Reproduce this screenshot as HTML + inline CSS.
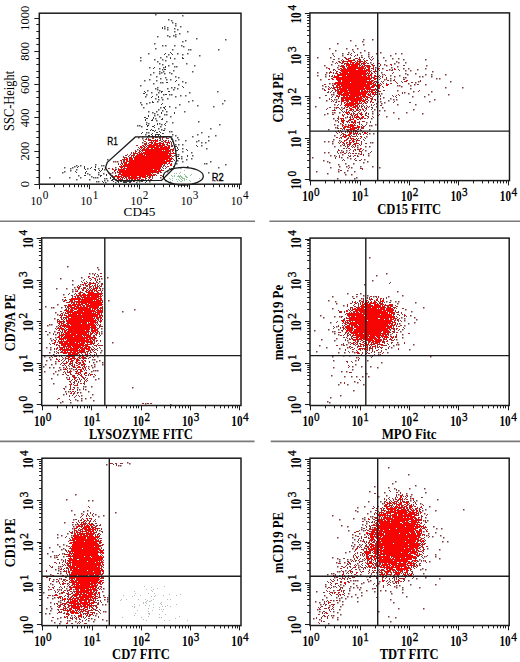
<!DOCTYPE html>
<html><head><meta charset="utf-8"><style>
html,body{margin:0;padding:0;background:#fff;width:520px;height:662px;overflow:hidden}
svg{display:block}
text{font-family:"Liberation Serif",serif;fill:#000}
</style></head><body>
<svg width="520" height="662" viewBox="0 0 520 662">
<rect width="520" height="662" fill="#fff"/>
<path stroke="#7a7a7a" stroke-width="1.6" d="M0 221.2H255M269.4 221.2H520M0 441.4H254.6M270.7 441.4H520"/>
<g stroke-width="1" fill="none"><path stroke="#7a3c3c" stroke-width="1.5" d="M363 39.75h1.5M372 39.75h1.5M350 40.75h1.5M362 41.75h1.5M337 43.75h1.5M363 44.75h1.5M355 45.75h1.5M329 48.75h1.5M346 48.75h1.5M357 48.75h1.5M352 49.75h1.5M335 50.75h1.5M364 50.75h1.5M348 52.75h1.5M360 52.75h1.5M368 52.75h1.5M380 52.75h1.5M332 53.75h1.5M342 53.75h1.5M376 53.75h1.5M395 53.75h1.5M401 53.75h1.5M368 54.75h1.5M342 55.75h1.5M361 55.75h1.5M390 55.75h1.5M368 56.75h1.5M317 57.75h1.5M330 57.75h1.5M383 57.75h1.5M338 58.75h1.5M392 58.75h1.5M398 58.75h1.5M403 59.75h1.5M425 59.75h1.5M377 60.75h1.5M385 60.75h1.5M332 61.75h1.5M396 61.75h1.5M370 62.75h1.5M398 62.75h1.5M405 62.75h1.5M394 63.75h1.5M331 64.75h1.5M384 64.75h1.5M324 65.75h1.5M338 65.75h1.5M386 65.75h1.5M426 65.75h1.5M397 66.75h1.5M326 67.75h1.5M337 67.75h1.5M375 67.75h1.5M391 67.75h1.5M382 68.75h1.5M403 68.75h1.5M408 68.75h1.5M425 68.75h1.5M389 69.75h1.5M417 69.75h1.5M405 70.75h1.5M410 70.75h1.5M432 71.75h1.5M317 72.75h1.5M326 72.75h1.5M381 72.75h1.5M405 73.75h1.5M415 73.75h1.5M325 74.75h1.5M382 74.75h1.5M407 74.75h1.5M425 74.75h1.5M431 74.75h1.5M445 74.75h1.5M317 75.75h1.5M390 75.75h1.5M399 75.75h1.5M325 76.75h1.5M394 76.75h1.5M419 76.75h1.5M422 76.75h1.5M431 76.75h1.5M403 77.75h1.5M405 77.75h1.5M390 78.75h1.5M436 78.75h1.5M439 78.75h1.5M320 79.75h1.5M384 79.75h1.5M390 80.75h1.5M418 81.75h1.5M450 81.75h1.5M415 82.75h1.5M329 83.75h1.5M332 83.75h1.5M408 83.75h1.5M414 84.75h1.5M425 84.75h1.5M322 85.75h1.5M397 85.75h1.5M399 85.75h1.5M410 85.75h1.5M325 86.75h1.5M401 86.75h1.5M445 87.75h1.5M462 87.75h1.5M322 88.75h1.5M410 88.75h1.5M397 90.75h1.5M413 91.75h1.5M431 91.75h1.5M333 92.75h1.5M404 92.75h1.5M381 93.75h1.5M408 93.75h1.5M331 94.75h1.5M333 94.75h1.5M428 94.75h1.5M448 94.75h1.5M377 96.75h1.5M412 96.75h1.5M424 96.75h1.5M319 97.75h1.5M383 97.75h1.5M390 98.75h1.5M334 99.75h1.5M336 99.75h1.5M393 99.75h1.5M396 99.75h1.5M434 99.75h1.5M326 100.75h1.5M388 100.75h1.5M377 101.75h1.5M380 101.75h1.5M429 101.75h1.5M384 102.75h1.5M376 103.75h1.5M381 103.75h1.5M334 104.75h1.5M397 104.75h1.5M415 104.75h1.5M315 106.75h1.5M376 106.75h1.5M334 107.75h1.5M341 107.75h1.5M382 107.75h1.5M374 109.75h1.5M413 109.75h1.5M379 110.75h1.5M384 110.75h1.5M372 111.75h1.5M332 112.75h1.5M334 112.75h1.5M339 112.75h1.5M393 112.75h1.5M406 112.75h1.5M327 113.75h1.5M372 113.75h1.5M422 113.75h1.5M324 114.75h1.5M386 116.75h1.5M345 117.75h1.5M333 118.75h1.5M371 118.75h1.5M398 118.75h1.5M335 120.75h1.5M366 122.75h1.5M340 123.75h1.5M334 124.75h1.5M345 124.75h1.5M375 124.75h1.5M337 125.75h1.5M369 125.75h1.5M371 125.75h1.5M335 127.75h1.5M328 129.75h1.5M369 129.75h1.5M369 133.75h1.5M373 133.75h1.5M334 135.75h1.5M366 136.75h1.5M138 137.75h1.5M142 138.75h1.5M333 139.75h1.5M339 140.75h1.5M324 141.75h1.5M328 141.75h1.5M332 141.75h1.5M142 142.75h1.5M370 142.75h1.5M372 142.75h1.5M332 143.75h1.5M340 145.75h1.5M357 145.75h1.5M334 146.75h1.5M365 146.75h1.5M369 146.75h1.5M357 147.75h1.5M137 149.75h1.5M175 150.75h1.5M341 150.75h1.5M346 150.75h1.5M365 150.75h1.5M324 152.75h1.5M328 152.75h1.5M340 152.75h1.5M358 153.75h1.5M368 153.75h1.5M342 154.75h1.5M330 155.75h1.5M334 155.75h1.5M368 155.75h1.5M312 157.75h1.5M341 157.75h1.5M347 157.75h1.5M350 158.75h1.5M364 159.75h1.5M323 160.75h1.5M113 161.75h1.5M115 161.75h1.5M117 161.75h1.5M327 161.75h1.5M367 161.75h1.5M329 162.75h1.5M363 162.75h1.5M345 163.75h1.5M353 163.75h1.5M338 164.75h1.5M348 165.75h1.5M173 166.75h1.5M339 166.75h1.5M346 166.75h1.5M360 166.75h1.5M372 166.75h1.5M115 167.75h1.5M330 167.75h1.5M351 167.75h1.5M379 167.75h1.5M169 168.75h1.5M171 168.75h1.5M338 169.75h1.5M347 170.75h1.5M167 171.75h1.5M316 171.75h1.5M338 171.75h1.5M354 171.75h1.5M112 172.75h1.5M344 172.75h1.5M110 173.75h1.5M327 173.75h1.5M345 174.75h1.5M351 174.75h1.5M160 177.75h1.5M356 177.75h1.5M337 178.75h1.5M354 178.75h1.5M369 257.75h1.5M67 266.75h1.5M97 267.75h1.5M98 269.75h1.5M89 273.75h1.5M92 273.75h1.5M386 273.75h1.5M376 275.75h1.5M96 276.75h1.5M81 277.75h1.5M107 277.75h1.5M60 278.75h1.5M101 278.75h1.5M72 280.75h1.5M372 280.75h1.5M99 281.75h1.5M72 284.75h1.5M80 284.75h1.5M364 284.75h1.5M74 287.75h1.5M56 288.75h1.5M66 288.75h1.5M102 288.75h1.5M72 289.75h1.5M75 289.75h1.5M72 291.75h1.5M397 291.75h1.5M347 293.75h1.5M360 293.75h1.5M63 294.75h1.5M363 295.75h1.5M367 295.75h1.5M402 295.75h1.5M332 296.75h1.5M352 296.75h1.5M356 296.75h1.5M373 296.75h1.5M388 296.75h1.5M361 298.75h1.5M62 299.75h1.5M108 300.75h1.5M328 300.75h1.5M390 300.75h1.5M335 301.75h1.5M386 301.75h1.5M395 301.75h1.5M398 301.75h1.5M415 302.75h1.5M336 303.75h1.5M397 303.75h1.5M57 304.75h1.5M343 305.75h1.5M45 306.75h1.5M51 307.75h1.5M53 307.75h1.5M61 307.75h1.5M423 307.75h1.5M332 308.75h1.5M134 309.75h1.5M405 309.75h1.5M122 311.75h1.5M411 311.75h1.5M55 312.75h1.5M57 314.75h1.5M320 315.75h1.5M410 315.75h1.5M334 316.75h1.5M339 316.75h1.5M323 317.75h1.5M401 317.75h1.5M414 317.75h1.5M54 318.75h1.5M404 318.75h1.5M416 319.75h1.5M404 320.75h1.5M330 322.75h1.5M414 322.75h1.5M399 323.75h1.5M408 323.75h1.5M49 324.75h1.5M51 324.75h1.5M47 325.75h1.5M404 325.75h1.5M56 326.75h1.5M336 326.75h1.5M101 328.75h1.5M328 329.75h1.5M338 329.75h1.5M402 329.75h1.5M314 330.75h1.5M54 331.75h1.5M101 331.75h1.5M332 331.75h1.5M334 331.75h1.5M400 331.75h1.5M49 332.75h1.5M101 333.75h1.5M334 333.75h1.5M47 334.75h1.5M55 334.75h1.5M338 334.75h1.5M390 334.75h1.5M402 334.75h1.5M55 337.75h1.5M402 337.75h1.5M50 338.75h1.5M336 338.75h1.5M321 339.75h1.5M396 339.75h1.5M51 340.75h1.5M334 340.75h1.5M347 340.75h1.5M112 342.75h1.5M348 342.75h1.5M397 342.75h1.5M341 344.75h1.5M346 344.75h1.5M396 344.75h1.5M398 344.75h1.5M413 344.75h1.5M319 345.75h1.5M393 345.75h1.5M46 347.75h1.5M50 347.75h1.5M326 347.75h1.5M347 347.75h1.5M391 347.75h1.5M339 348.75h1.5M50 349.75h1.5M409 349.75h1.5M101 350.75h1.5M316 351.75h1.5M352 351.75h1.5M49 352.75h1.5M100 352.75h1.5M338 352.75h1.5M344 352.75h1.5M354 352.75h1.5M378 352.75h1.5M387 352.75h1.5M53 354.75h1.5M378 354.75h1.5M343 355.75h1.5M349 355.75h1.5M370 355.75h1.5M44 356.75h1.5M97 356.75h1.5M332 356.75h1.5M430 356.75h1.5M49 357.75h1.5M356 357.75h1.5M50 359.75h1.5M92 359.75h1.5M94 359.75h1.5M46 360.75h1.5M99 360.75h1.5M333 360.75h1.5M355 360.75h1.5M367 360.75h1.5M55 361.75h1.5M96 361.75h1.5M93 362.75h1.5M102 362.75h1.5M381 362.75h1.5M55 363.75h1.5M45 364.75h1.5M51 364.75h1.5M94 364.75h1.5M102 364.75h1.5M355 364.75h1.5M91 365.75h1.5M43 366.75h1.5M88 366.75h1.5M94 366.75h1.5M352 366.75h1.5M361 366.75h1.5M370 366.75h1.5M49 367.75h1.5M53 367.75h1.5M59 367.75h1.5M63 367.75h1.5M92 367.75h1.5M333 367.75h1.5M377 367.75h1.5M69 368.75h1.5M71 368.75h1.5M60 369.75h1.5M73 369.75h1.5M352 369.75h1.5M58 370.75h1.5M93 370.75h1.5M95 370.75h1.5M97 370.75h1.5M44 371.75h1.5M55 371.75h1.5M91 371.75h1.5M341 371.75h1.5M346 371.75h1.5M53 373.75h1.5M366 373.75h1.5M57 374.75h1.5M331 375.75h1.5M93 376.75h1.5M344 376.75h1.5M351 376.75h1.5M356 376.75h1.5M362 376.75h1.5M368 376.75h1.5M66 377.75h1.5M51 378.75h1.5M98 378.75h1.5M95 379.75h1.5M354 381.75h1.5M340 382.75h1.5M357 382.75h1.5M53 383.75h1.5M338 384.75h1.5M347 384.75h1.5M363 384.75h1.5M65 386.75h1.5M83 386.75h1.5M85 386.75h1.5M91 386.75h1.5M77 387.75h1.5M132 387.75h1.5M79 389.75h1.5M85 389.75h1.5M353 390.75h1.5M65 391.75h1.5M68 391.75h1.5M88 391.75h1.5M80 392.75h1.5M63 394.75h1.5M92 394.75h1.5M81 395.75h1.5M340 395.75h1.5M90 397.75h1.5M330 397.75h1.5M81 398.75h1.5M85 398.75h1.5M75 399.75h1.5M77 400.75h1.5M81 400.75h1.5M93 400.75h1.5M62 401.75h1.5M327 401.75h1.5M60 402.75h1.5M70 402.75h1.5M329 402.75h1.5M145 403.75h1.5M170 404.75h1.5M127 462.75h1.5M129 463.75h1.5M106 464.75h1.5M118 465.75h1.5M120 465.75h1.5M388 467.75h1.5M408 474.75h1.5M395 481.75h1.5M392 483.75h1.5M415 485.75h1.5M374 486.75h1.5M388 487.75h1.5M394 488.75h1.5M409 488.75h1.5M424 488.75h1.5M398 490.75h1.5M369 491.75h1.5M384 492.75h1.5M425 492.75h1.5M406 493.75h1.5M75 494.75h1.5M398 494.75h1.5M411 494.75h1.5M386 495.75h1.5M378 496.75h1.5M410 496.75h1.5M410 498.75h1.5M66 499.75h1.5M437 499.75h1.5M88 500.75h1.5M92 500.75h1.5M410 500.75h1.5M416 500.75h1.5M368 501.75h1.5M380 501.75h1.5M382 503.75h1.5M420 503.75h1.5M364 506.75h1.5M429 506.75h1.5M357 507.75h1.5M425 509.75h1.5M463 509.75h1.5M71 510.75h1.5M87 510.75h1.5M355 510.75h1.5M422 510.75h1.5M435 510.75h1.5M83 511.75h1.5M357 511.75h1.5M370 511.75h1.5M115 512.75h1.5M81 513.75h1.5M367 513.75h1.5M424 513.75h1.5M74 514.75h1.5M95 514.75h1.5M103 515.75h1.5M332 515.75h1.5M98 516.75h1.5M370 516.75h1.5M372 516.75h1.5M364 517.75h1.5M425 517.75h1.5M353 518.75h1.5M362 518.75h1.5M73 519.75h1.5M339 519.75h1.5M364 519.75h1.5M423 520.75h1.5M427 520.75h1.5M366 521.75h1.5M64 522.75h1.5M366 523.75h1.5M72 524.75h1.5M75 524.75h1.5M362 524.75h1.5M341 525.75h1.5M73 526.75h1.5M347 526.75h1.5M433 526.75h1.5M361 527.75h1.5M372 527.75h1.5M72 528.75h1.5M436 528.75h1.5M441 528.75h1.5M361 529.75h1.5M99 530.75h1.5M348 530.75h1.5M363 530.75h1.5M423 531.75h1.5M435 532.75h1.5M67 533.75h1.5M359 533.75h1.5M428 533.75h1.5M57 534.75h1.5M352 534.75h1.5M364 534.75h1.5M61 535.75h1.5M71 535.75h1.5M355 535.75h1.5M426 535.75h1.5M440 535.75h1.5M432 536.75h1.5M57 537.75h1.5M337 537.75h1.5M352 537.75h1.5M443 537.75h1.5M354 539.75h1.5M360 540.75h1.5M442 541.75h1.5M447 541.75h1.5M352 542.75h1.5M57 544.75h1.5M63 544.75h1.5M354 544.75h1.5M359 544.75h1.5M66 545.75h1.5M351 545.75h1.5M59 546.75h1.5M353 546.75h1.5M49 547.75h1.5M63 548.75h1.5M352 548.75h1.5M427 548.75h1.5M61 549.75h1.5M439 549.75h1.5M52 551.75h1.5M349 551.75h1.5M345 552.75h1.5M47 553.75h1.5M62 553.75h1.5M435 554.75h1.5M54 555.75h1.5M56 555.75h1.5M50 556.75h1.5M63 556.75h1.5M424 556.75h1.5M435 556.75h1.5M54 557.75h1.5M332 557.75h1.5M337 558.75h1.5M439 558.75h1.5M61 559.75h1.5M339 559.75h1.5M347 559.75h1.5M350 559.75h1.5M362 559.75h1.5M419 559.75h1.5M423 560.75h1.5M339 561.75h1.5M429 561.75h1.5M336 562.75h1.5M344 562.75h1.5M357 563.75h1.5M358 565.75h1.5M58 566.75h1.5M60 566.75h1.5M337 566.75h1.5M358 567.75h1.5M58 568.75h1.5M422 568.75h1.5M55 569.75h1.5M359 569.75h1.5M420 569.75h1.5M425 569.75h1.5M58 570.75h1.5M345 570.75h1.5M60 571.75h1.5M337 571.75h1.5M339 571.75h1.5M376 572.75h1.5M60 573.75h1.5M331 573.75h1.5M333 573.75h1.5M423 573.75h1.5M50 574.75h1.5M327 574.75h1.5M360 574.75h1.5M333 575.75h1.5M339 575.75h1.5M348 575.75h1.5M351 575.75h1.5M366 576.75h1.5M334 577.75h1.5M425 577.75h1.5M59 578.75h1.5M416 578.75h1.5M439 578.75h1.5M53 579.75h1.5M367 579.75h1.5M350 580.75h1.5M353 580.75h1.5M355 580.75h1.5M357 580.75h1.5M370 580.75h1.5M408 580.75h1.5M56 581.75h1.5M368 581.75h1.5M379 581.75h1.5M392 581.75h1.5M363 582.75h1.5M50 583.75h1.5M353 583.75h1.5M361 583.75h1.5M378 583.75h1.5M52 584.75h1.5M325 584.75h1.5M340 584.75h1.5M410 584.75h1.5M435 584.75h1.5M343 585.75h1.5M356 585.75h1.5M376 585.75h1.5M396 585.75h1.5M399 585.75h1.5M325 586.75h1.5M333 586.75h1.5M350 586.75h1.5M394 586.75h1.5M353 587.75h1.5M357 587.75h1.5M360 587.75h1.5M396 587.75h1.5M402 587.75h1.5M419 587.75h1.5M66 588.75h1.5M103 588.75h1.5M349 588.75h1.5M372 588.75h1.5M48 589.75h1.5M57 589.75h1.5M59 589.75h1.5M73 589.75h1.5M359 589.75h1.5M402 589.75h1.5M333 590.75h1.5M349 590.75h1.5M366 590.75h1.5M380 590.75h1.5M385 590.75h1.5M102 591.75h1.5M316 591.75h1.5M374 591.75h1.5M390 591.75h1.5M43 592.75h1.5M361 592.75h1.5M402 592.75h1.5M59 593.75h1.5M348 593.75h1.5M391 593.75h1.5M355 594.75h1.5M52 595.75h1.5M103 595.75h1.5M324 595.75h1.5M361 595.75h1.5M347 596.75h1.5M351 596.75h1.5M406 596.75h1.5M47 597.75h1.5M54 597.75h1.5M107 597.75h1.5M326 597.75h1.5M336 597.75h1.5M341 597.75h1.5M357 597.75h1.5M52 598.75h1.5M339 598.75h1.5M345 598.75h1.5M104 599.75h1.5M107 599.75h1.5M322 599.75h1.5M390 599.75h1.5M60 600.75h1.5M333 600.75h1.5M339 600.75h1.5M58 601.75h1.5M107 601.75h1.5M315 601.75h1.5M342 601.75h1.5M357 601.75h1.5M50 602.75h1.5M60 602.75h1.5M319 602.75h1.5M337 602.75h1.5M393 602.75h1.5M102 604.75h1.5M105 604.75h1.5M320 604.75h1.5M342 604.75h1.5M329 605.75h1.5M50 606.75h1.5M340 606.75h1.5M46 608.75h1.5M51 608.75h1.5M398 608.75h1.5M423 608.75h1.5M317 609.75h1.5M339 609.75h1.5M50 610.75h1.5M103 611.75h1.5M105 611.75h1.5M319 611.75h1.5M333 611.75h1.5M378 611.75h1.5M337 612.75h1.5M45 613.75h1.5M49 613.75h1.5M96 613.75h1.5M340 614.75h1.5M71 615.75h1.5M95 615.75h1.5M331 615.75h1.5M333 615.75h1.5M388 616.75h1.5M60 617.75h1.5M332 617.75h1.5M337 617.75h1.5M395 617.75h1.5M57 618.75h1.5M91 618.75h1.5M313 618.75h1.5M94 619.75h1.5M102 619.75h1.5M319 619.75h1.5M337 619.75h1.5M51 620.75h1.5M67 620.75h1.5M69 620.75h1.5M88 620.75h1.5M106 620.75h1.5M60 621.75h1.5M75 621.75h1.5M93 621.75h1.5M390 621.75h1.5M54 622.75h1.5M59 623.75h1.5M328 623.75h1.5"/>
<path stroke="#555555" stroke-width="1.5" d="M155 14.75h1.5M182 15.75h1.5M168 19.75h1.5M171 20.75h1.5M172 22.75h1.5M175 23.75h1.5M175 25.75h1.5M164 26.75h1.5M180 26.75h1.5M167 27.75h1.5M164 28.75h1.5M174 28.75h1.5M167 29.75h1.5M177 29.75h1.5M174 31.75h1.5M187 31.75h1.5M179 33.75h1.5M175 34.75h1.5M167 35.75h1.5M173 35.75h1.5M157 36.75h1.5M169 36.75h1.5M175 36.75h1.5M196 38.75h1.5M225 39.75h1.5M185 40.75h1.5M182 41.75h1.5M154 43.75h1.5M162 45.75h1.5M165 45.75h1.5M174 45.75h1.5M181 45.75h1.5M183 46.75h1.5M155 48.75h1.5M172 49.75h1.5M188 49.75h1.5M190 49.75h1.5M218 49.75h1.5M148 53.75h1.5M177 53.75h1.5M187 53.75h1.5M168 54.75h1.5M182 54.75h1.5M199 55.75h1.5M166 56.75h1.5M140 57.75h1.5M160 57.75h1.5M174 58.75h1.5M154 59.75h1.5M162 59.75h1.5M140 60.75h1.5M165 60.75h1.5M157 61.75h1.5M159 63.75h1.5M172 63.75h1.5M186 63.75h1.5M162 64.75h1.5M168 65.75h1.5M194 65.75h1.5M174 66.75h1.5M176 66.75h1.5M149 67.75h1.5M163 67.75h1.5M159 68.75h1.5M162 69.75h1.5M173 70.75h1.5M159 71.75h1.5M163 71.75h1.5M192 71.75h1.5M153 72.75h1.5M161 72.75h1.5M169 72.75h1.5M159 73.75h1.5M164 73.75h1.5M171 73.75h1.5M150 74.75h1.5M156 76.75h1.5M175 76.75h1.5M165 77.75h1.5M178 77.75h1.5M160 78.75h1.5M149 79.75h1.5M166 79.75h1.5M170 79.75h1.5M144 80.75h1.5M156 80.75h1.5M182 81.75h1.5M160 82.75h1.5M162 82.75h1.5M185 82.75h1.5M153 83.75h1.5M178 84.75h1.5M140 85.75h1.5M157 87.75h1.5M171 87.75h1.5M174 87.75h1.5M155 88.75h1.5M167 88.75h1.5M177 88.75h1.5M157 89.75h1.5M173 89.75h1.5M147 90.75h1.5M159 90.75h1.5M217 91.75h1.5M151 92.75h1.5M158 92.75h1.5M189 92.75h1.5M146 94.75h1.5M156 94.75h1.5M163 94.75h1.5M169 94.75h1.5M171 94.75h1.5M180 95.75h1.5M185 95.75h1.5M145 96.75h1.5M175 96.75h1.5M161 97.75h1.5M155 98.75h1.5M167 98.75h1.5M158 99.75h1.5M162 99.75h1.5M192 100.75h1.5M224 100.75h1.5M157 101.75h1.5M188 101.75h1.5M140 102.75h1.5M149 102.75h1.5M146 103.75h1.5M222 103.75h1.5M141 104.75h1.5M179 104.75h1.5M197 105.75h1.5M169 106.75h1.5M213 106.75h1.5M143 107.75h1.5M160 107.75h1.5M175 107.75h1.5M158 109.75h1.5M162 110.75h1.5M148 111.75h1.5M156 111.75h1.5M166 111.75h1.5M184 111.75h1.5M152 112.75h1.5M154 113.75h1.5M157 114.75h1.5M164 114.75h1.5M166 114.75h1.5M154 115.75h1.5M159 116.75h1.5M170 116.75h1.5M155 118.75h1.5M156 120.75h1.5M166 121.75h1.5M198 121.75h1.5M146 122.75h1.5M172 122.75h1.5M148 123.75h1.5M159 123.75h1.5M161 124.75h1.5M219 124.75h1.5M137 125.75h1.5M139 125.75h1.5M141 126.75h1.5M160 126.75h1.5M158 128.75h1.5M164 128.75h1.5M210 128.75h1.5M161 129.75h1.5M169 131.75h1.5M171 131.75h1.5M146 132.75h1.5M148 132.75h1.5M201 132.75h1.5M145 134.75h1.5M172 134.75h1.5M197 134.75h1.5M175 135.75h1.5M215 135.75h1.5M142 136.75h1.5M164 136.75h1.5M169 136.75h1.5M171 136.75h1.5M192 136.75h1.5M208 136.75h1.5M177 137.75h1.5M178 139.75h1.5M175 140.75h1.5M185 140.75h1.5M198 140.75h1.5M208 140.75h1.5M196 141.75h1.5M201 142.75h1.5M205 142.75h1.5M175 144.75h1.5M178 144.75h1.5M182 144.75h1.5M201 145.75h1.5M182 148.75h1.5M206 148.75h1.5M182 151.75h1.5M191 152.75h1.5M176 154.75h1.5M178 154.75h1.5M192 155.75h1.5M181 156.75h1.5M181 158.75h1.5M191 158.75h1.5M107 159.75h1.5M186 159.75h1.5M177 160.75h1.5M182 161.75h1.5M210 161.75h1.5M176 163.75h1.5M204 163.75h1.5M206 163.75h1.5M95 164.75h1.5M225 164.75h1.5M76 165.75h1.5M80 165.75h1.5M101 165.75h1.5M103 165.75h1.5M74 166.75h1.5M187 166.75h1.5M64 167.75h1.5M72 167.75h1.5M105 167.75h1.5M180 167.75h1.5M218 167.75h1.5M70 168.75h1.5M87 168.75h1.5M98 168.75h1.5M76 169.75h1.5M104 169.75h1.5M70 170.75h1.5M64 171.75h1.5M62 172.75h1.5M98 172.75h1.5M108 172.75h1.5M208 172.75h1.5M87 173.75h1.5M103 173.75h1.5M89 174.75h1.5M98 174.75h1.5M78 175.75h1.5M91 176.75h1.5M49 177.75h1.5M69 177.75h1.5M80 177.75h1.5M93 177.75h1.5M95 177.75h1.5M97 177.75h1.5M104 178.75h1.5M106 178.75h1.5M76 179.75h1.5M89 179.75h1.5M220 179.75h1.5M104 180.75h1.5M107 180.75h1.5M137 180.75h1.5M165 180.75h1.5M214 180.75h1.5M96 181.75h1.5M98 181.75h1.5M139 181.75h1.5M149 181.75h1.5M105 182.75h1.5M115 182.75h1.5M136 182.75h1.5"/>
<path stroke="#7a3939" d="M353 51.5h1M354 52.5h1M351 53.5h1M347 54.5h2M333 55.5h1M355 55.5h1M334 56.5h1M354 56.5h1M372 56.5h1M350 57.5h1M359 57.5h1M361 57.5h2M371 57.5h1M345 58.5h1M350 58.5h1M364 58.5h1M369 58.5h1M333 59.5h2M342 59.5h1M353 59.5h1M360 59.5h1M363 59.5h1M370 59.5h1M341 60.5h1M371 60.5h1M362 61.5h1M339 62.5h1M377 62.5h1M335 63.5h1M348 63.5h1M368 63.5h1M373 63.5h1M344 64.5h1M371 64.5h1M341 65.5h1M374 65.5h1M403 65.5h2M370 66.5h1M379 66.5h1M377 67.5h1M371 68.5h1M333 69.5h2M375 69.5h1M377 69.5h1M392 69.5h1M398 69.5h1M333 70.5h1M335 70.5h1M379 70.5h1M391 70.5h2M399 70.5h1M330 71.5h1M373 71.5h1M376 71.5h1M339 72.5h1M335 73.5h1M372 73.5h1M329 75.5h1M332 75.5h1M334 75.5h1M379 75.5h1M329 76.5h1M331 76.5h1M380 76.5h1M386 77.5h1M331 78.5h1M373 78.5h1M380 78.5h1M379 79.5h1M394 79.5h1M403 79.5h2M337 80.5h1M387 80.5h2M393 80.5h1M381 81.5h1M383 81.5h1M401 81.5h1M378 82.5h1M402 82.5h1M411 82.5h2M380 83.5h1M386 83.5h1M388 84.5h1M417 84.5h2M374 86.5h1M376 86.5h1M331 87.5h1M330 88.5h1M324 89.5h1M332 90.5h1M383 90.5h2M328 91.5h1M331 91.5h1M380 91.5h1M327 92.5h2M330 92.5h1M376 92.5h1M379 93.5h1M367 94.5h1M376 94.5h1M379 94.5h1M325 95.5h2M380 95.5h1M392 95.5h1M396 95.5h1M332 96.5h1M380 96.5h1M393 96.5h1M395 96.5h1M331 97.5h1M335 97.5h1M341 97.5h1M396 97.5h1M338 98.5h1M331 99.5h1M368 100.5h1M375 100.5h1M331 101.5h1M336 101.5h1M394 101.5h1M335 102.5h2M370 102.5h1M393 102.5h1M409 102.5h2M363 103.5h1M338 104.5h1M374 104.5h1M337 105.5h1M361 105.5h1M366 105.5h1M373 105.5h1M362 106.5h1M329 107.5h2M338 107.5h1M371 107.5h2M336 108.5h1M339 108.5h1M344 108.5h1M349 108.5h1M355 108.5h1M365 108.5h1M372 108.5h1M334 109.5h1M340 109.5h1M360 109.5h1M371 109.5h1M341 110.5h1M360 110.5h1M363 110.5h1M342 111.5h1M344 111.5h1M343 112.5h1M345 112.5h1M351 113.5h1M354 113.5h1M357 113.5h1M365 113.5h1M368 113.5h1M344 114.5h1M347 114.5h2M362 114.5h1M368 114.5h1M366 115.5h1M343 116.5h1M367 116.5h1M349 117.5h1M361 117.5h1M337 118.5h1M362 118.5h1M367 118.5h1M349 119.5h1M337 120.5h1M344 120.5h1M338 121.5h1M352 121.5h1M359 121.5h1M364 121.5h1M370 121.5h1M338 122.5h1M347 122.5h1M349 122.5h1M351 122.5h1M357 122.5h1M370 122.5h1M359 124.5h1M361 124.5h1M366 124.5h1M357 125.5h1M362 125.5h1M365 125.5h1M364 126.5h1M337 127.5h1M337 128.5h2M335 131.5h1M342 131.5h1M345 131.5h1M358 131.5h1M363 131.5h1M339 132.5h1M341 132.5h1M345 132.5h1M347 132.5h1M362 132.5h1M359 133.5h2M353 134.5h2M358 134.5h1M360 134.5h1M363 134.5h1M367 134.5h1M346 136.5h1M357 136.5h1M147 137.5h1M155 137.5h1M159 137.5h2M166 137.5h1M364 137.5h1M159 138.5h1M168 138.5h1M339 138.5h1M341 138.5h1M348 138.5h1M358 138.5h1M360 138.5h1M365 138.5h1M145 139.5h1M150 139.5h1M155 139.5h1M157 139.5h1M171 139.5h2M363 139.5h1M143 140.5h1M159 140.5h1M166 140.5h1M346 140.5h1M350 140.5h1M364 140.5h1M170 141.5h1M172 141.5h1M341 141.5h1M354 141.5h1M361 141.5h1M165 142.5h1M340 142.5h1M353 142.5h1M344 143.5h1M358 143.5h1M365 143.5h2M350 144.5h1M359 144.5h1M172 145.5h1M171 146.5h2M345 146.5h1M348 146.5h1M351 146.5h1M138 147.5h1M139 148.5h1M343 148.5h2M346 148.5h1M338 149.5h1M350 149.5h1M357 149.5h1M363 149.5h1M349 150.5h1M355 150.5h1M362 150.5h1M136 151.5h1M337 151.5h1M343 151.5h1M371 151.5h1M337 152.5h1M346 152.5h1M370 152.5h1M338 153.5h1M350 153.5h1M355 153.5h2M125 155.5h1M129 155.5h1M339 155.5h1M348 155.5h1M350 155.5h1M357 155.5h1M336 156.5h1M349 156.5h2M353 156.5h1M357 156.5h2M126 157.5h1M335 157.5h1M335 158.5h1M343 159.5h1M361 159.5h1M174 160.5h1M342 160.5h1M344 160.5h1M355 160.5h2M359 160.5h2M172 161.5h1M118 163.5h1M171 163.5h1M118 164.5h1M167 164.5h1M119 166.5h1M165 166.5h1M168 166.5h1M349 167.5h1M163 168.5h1M165 168.5h1M348 168.5h1M115 169.5h2M117 171.5h1M117 172.5h1M112 175.5h1M115 175.5h2M156 175.5h1M162 176.5h1M124 178.5h1M146 178.5h1M152 178.5h1M122 180.5h1M130 180.5h1M134 180.5h1M136 180.5h1M138 180.5h1M95 273.5h1M97 274.5h1M98 275.5h1M98 276.5h1M89 278.5h1M84 279.5h1M97 279.5h1M83 280.5h1M90 280.5h1M95 280.5h1M81 281.5h1M86 281.5h1M82 282.5h1M390 282.5h1M98 283.5h1M101 283.5h2M389 283.5h1M90 284.5h1M102 284.5h1M78 285.5h1M92 285.5h1M99 285.5h1M80 286.5h1M83 287.5h1M81 288.5h1M99 288.5h1M102 290.5h1M75 291.5h1M80 291.5h1M85 291.5h1M69 293.5h1M75 293.5h1M84 293.5h1M102 293.5h1M68 294.5h1M74 294.5h1M71 295.5h2M102 295.5h1M375 296.5h1M367 297.5h1M369 297.5h1M386 297.5h1M353 298.5h2M367 298.5h1M386 298.5h1M65 299.5h1M69 299.5h1M372 299.5h1M66 300.5h1M63 301.5h1M69 301.5h1M352 301.5h1M355 301.5h1M368 301.5h1M378 301.5h1M102 302.5h1M352 302.5h1M384 302.5h1M389 302.5h2M358 303.5h1M102 304.5h1M354 304.5h1M66 305.5h1M353 305.5h1M372 305.5h1M395 305.5h1M347 306.5h1M352 307.5h1M394 308.5h1M396 308.5h1M65 309.5h1M348 309.5h1M349 310.5h1M344 311.5h1M398 311.5h1M102 312.5h1M339 312.5h1M344 312.5h1M398 312.5h1M61 313.5h1M345 314.5h1M394 314.5h1M397 314.5h1M402 314.5h1M59 315.5h1M66 315.5h1M102 315.5h1M102 316.5h1M342 316.5h1M404 316.5h1M406 316.5h1M63 317.5h1M346 317.5h1M57 319.5h2M102 319.5h1M343 319.5h1M341 320.5h1M397 320.5h1M64 321.5h1M337 321.5h1M392 321.5h1M57 322.5h1M64 322.5h1M100 322.5h1M336 322.5h1M397 323.5h1M338 325.5h1M342 325.5h1M102 326.5h1M333 326.5h1M338 326.5h1M396 326.5h1M96 327.5h1M334 327.5h1M340 327.5h1M403 327.5h1M55 328.5h1M98 328.5h1M333 328.5h1M340 328.5h1M404 328.5h1M399 329.5h1M341 330.5h1M390 330.5h1M398 330.5h1M45 331.5h2M60 331.5h1M98 331.5h1M340 332.5h1M390 332.5h1M394 332.5h1M53 333.5h1M53 334.5h1M99 334.5h1M344 334.5h1M93 335.5h1M100 335.5h1M343 335.5h1M99 336.5h1M57 337.5h1M343 337.5h2M388 337.5h1M96 338.5h1M347 338.5h1M392 338.5h1M53 339.5h1M56 339.5h1M345 339.5h1M389 339.5h1M394 339.5h1M345 340.5h1M353 340.5h1M391 340.5h1M384 341.5h1M57 342.5h1M392 342.5h1M49 343.5h1M98 343.5h1M343 343.5h1M359 343.5h2M387 343.5h1M50 344.5h1M54 344.5h1M93 344.5h1M350 344.5h1M353 344.5h1M388 344.5h1M102 345.5h1M344 345.5h1M358 345.5h1M386 345.5h1M96 346.5h1M363 346.5h1M365 346.5h1M57 347.5h1M90 347.5h1M99 347.5h1M352 347.5h1M369 347.5h1M382 347.5h1M100 348.5h1M350 348.5h1M354 348.5h1M375 348.5h1M381 348.5h1M388 348.5h1M59 349.5h1M345 349.5h1M378 349.5h1M385 349.5h2M58 350.5h1M94 350.5h1M97 350.5h1M345 350.5h1M360 350.5h1M369 350.5h1M54 351.5h1M56 351.5h1M348 351.5h1M374 351.5h1M54 352.5h1M349 352.5h1M371 352.5h1M374 352.5h1M380 352.5h1M89 353.5h1M96 353.5h1M90 354.5h1M96 354.5h1M365 354.5h1M55 355.5h1M60 355.5h1M93 355.5h1M51 356.5h1M56 356.5h1M59 356.5h1M61 356.5h1M94 356.5h1M372 356.5h1M52 357.5h1M62 357.5h1M65 357.5h1M89 357.5h2M358 357.5h1M371 357.5h1M80 358.5h1M86 358.5h1M88 358.5h1M59 359.5h1M61 360.5h1M64 360.5h1M81 360.5h1M358 360.5h1M63 361.5h1M66 361.5h1M89 361.5h1M351 361.5h1M75 362.5h1M89 362.5h1M347 362.5h1M352 362.5h1M61 363.5h1M69 363.5h1M84 363.5h1M60 364.5h1M348 365.5h1M69 366.5h1M86 366.5h1M77 367.5h1M80 367.5h1M63 369.5h1M75 369.5h1M84 370.5h1M86 370.5h1M64 371.5h1M69 371.5h1M75 371.5h1M82 371.5h1M63 372.5h1M67 372.5h1M349 372.5h1M75 373.5h1M89 373.5h1M92 374.5h1M68 375.5h1M74 375.5h1M77 375.5h1M86 375.5h1M81 376.5h1M69 377.5h1M76 377.5h1M78 377.5h1M85 377.5h1M83 378.5h1M67 379.5h1M72 379.5h1M77 379.5h1M81 379.5h1M359 379.5h1M360 380.5h1M69 381.5h1M78 381.5h1M73 382.5h1M78 382.5h1M77 383.5h1M83 383.5h1M69 384.5h1M73 384.5h1M84 384.5h1M73 387.5h2M63 388.5h1M74 388.5h1M69 389.5h1M77 389.5h1M77 390.5h1M70 391.5h1M75 391.5h1M78 392.5h1M66 393.5h1M73 393.5h1M66 394.5h1M69 395.5h1M76 395.5h1M78 395.5h1M69 396.5h1M79 396.5h1M57 399.5h1M69 399.5h1M70 400.5h1M147 403.5h2M109 463.5h1M112 463.5h1M115 463.5h2M122 463.5h1M113 464.5h1M396 489.5h1M389 490.5h1M396 490.5h1M390 491.5h1M403 496.5h1M405 496.5h1M389 497.5h1M395 497.5h1M421 497.5h2M386 499.5h1M396 499.5h1M386 500.5h1M393 500.5h1M398 500.5h1M413 500.5h1M389 501.5h1M404 501.5h1M408 501.5h1M414 501.5h1M403 502.5h1M413 502.5h1M394 504.5h1M416 504.5h1M377 505.5h1M373 506.5h1M378 506.5h1M412 506.5h1M374 507.5h1M382 507.5h1M417 507.5h1M384 508.5h1M422 508.5h1M420 509.5h1M375 510.5h1M414 510.5h1M378 511.5h1M420 511.5h1M87 513.5h1M93 513.5h1M374 514.5h1M88 515.5h1M377 515.5h1M421 515.5h1M86 516.5h1M89 516.5h1M93 516.5h1M422 516.5h1M89 518.5h1M75 519.5h2M81 519.5h1M95 519.5h1M83 521.5h1M93 521.5h1M368 521.5h1M372 521.5h1M79 522.5h1M369 522.5h1M371 522.5h2M425 522.5h2M86 523.5h1M91 523.5h2M95 523.5h2M77 524.5h1M424 524.5h1M94 525.5h1M99 525.5h1M365 525.5h1M369 525.5h1M371 525.5h1M420 525.5h1M423 525.5h1M96 526.5h1M369 526.5h1M426 527.5h1M76 528.5h1M363 528.5h2M366 529.5h1M419 529.5h1M427 529.5h1M95 530.5h1M365 530.5h1M367 530.5h1M69 531.5h1M72 531.5h1M101 531.5h2M96 532.5h1M102 532.5h1M100 534.5h1M367 534.5h1M73 535.5h1M428 535.5h1M66 536.5h1M357 536.5h2M65 537.5h1M71 537.5h1M368 537.5h1M420 537.5h1M424 537.5h1M69 538.5h1M361 538.5h1M70 539.5h1M363 539.5h1M374 539.5h1M424 539.5h1M358 540.5h1M357 541.5h1M364 541.5h1M366 541.5h1M358 542.5h1M366 542.5h1M69 543.5h1M362 544.5h1M424 544.5h1M361 545.5h1M365 545.5h1M69 548.5h1M65 549.5h1M103 549.5h1M355 549.5h1M361 549.5h1M420 549.5h1M424 549.5h1M65 550.5h1M363 550.5h1M67 552.5h1M64 553.5h1M355 553.5h1M419 553.5h1M98 555.5h1M102 555.5h1M353 555.5h1M372 555.5h1M412 555.5h1M422 555.5h1M427 555.5h1M358 556.5h1M363 556.5h1M418 556.5h1M421 556.5h1M426 556.5h1M422 557.5h1M343 558.5h2M357 558.5h1M360 558.5h1M413 558.5h1M416 558.5h1M423 558.5h1M57 559.5h2M65 559.5h1M359 559.5h1M372 559.5h1M67 560.5h1M356 560.5h1M364 560.5h1M373 560.5h1M347 561.5h2M351 561.5h1M362 561.5h1M411 561.5h1M418 561.5h1M62 562.5h1M65 562.5h1M359 562.5h1M365 562.5h1M416 562.5h1M426 562.5h1M56 563.5h1M340 563.5h1M347 563.5h1M350 563.5h1M362 563.5h1M419 563.5h2M348 564.5h1M350 564.5h1M361 564.5h1M367 564.5h1M49 565.5h1M356 565.5h1M362 565.5h1M365 565.5h1M371 565.5h1M420 565.5h1M62 566.5h1M341 566.5h1M349 566.5h1M347 567.5h1M353 567.5h1M362 567.5h1M64 568.5h1M347 568.5h1M352 568.5h1M365 568.5h1M372 568.5h1M384 568.5h1M414 568.5h1M63 569.5h1M102 569.5h1M351 569.5h1M355 569.5h2M369 569.5h1M379 569.5h1M381 569.5h1M394 569.5h1M341 570.5h1M404 570.5h1M408 570.5h1M63 571.5h1M352 571.5h1M360 571.5h1M412 571.5h1M352 572.5h1M361 572.5h1M374 572.5h1M379 572.5h1M388 572.5h1M393 572.5h1M57 573.5h2M348 573.5h1M371 573.5h1M409 573.5h1M411 573.5h1M102 574.5h1M379 574.5h1M413 574.5h1M344 575.5h1M374 575.5h1M393 575.5h1M63 576.5h1M346 576.5h1M357 576.5h1M374 576.5h1M391 576.5h1M402 576.5h1M406 576.5h1M65 577.5h2M345 577.5h1M348 577.5h1M354 577.5h1M369 577.5h2M393 577.5h1M398 577.5h1M405 577.5h1M413 577.5h1M50 578.5h1M339 578.5h1M349 578.5h2M376 578.5h1M385 578.5h1M392 578.5h1M412 578.5h1M63 579.5h1M330 579.5h1M333 579.5h1M337 579.5h1M49 580.5h1M331 580.5h1M334 580.5h1M337 580.5h1M384 580.5h1M390 580.5h1M404 580.5h1M69 581.5h1M327 581.5h1M347 581.5h2M389 581.5h1M403 581.5h1M328 582.5h1M388 582.5h1M390 582.5h1M67 583.5h1M335 583.5h1M374 583.5h1M387 583.5h1M393 583.5h1M60 584.5h1M67 584.5h1M335 584.5h1M345 584.5h1M373 584.5h1M71 585.5h1M338 585.5h1M383 585.5h1M387 585.5h1M390 585.5h1M54 586.5h1M67 586.5h1M335 586.5h1M339 586.5h1M59 587.5h1M331 587.5h1M336 587.5h1M342 587.5h1M53 588.5h1M62 588.5h1M327 588.5h1M330 588.5h1M342 588.5h1M61 589.5h1M69 589.5h1M339 589.5h1M61 590.5h1M337 590.5h1M344 590.5h1M58 591.5h1M63 591.5h1M73 591.5h1M329 591.5h1M55 592.5h1M57 592.5h1M64 592.5h1M323 592.5h2M343 592.5h1M71 593.5h1M329 593.5h1M344 593.5h1M67 594.5h1M70 594.5h1M97 594.5h1M50 595.5h1M65 595.5h1M344 595.5h1M64 596.5h1M67 596.5h1M338 596.5h1M57 597.5h1M62 597.5h1M100 597.5h1M58 598.5h1M60 598.5h1M62 600.5h1M97 600.5h2M67 601.5h1M324 601.5h1M328 601.5h1M101 602.5h1M330 602.5h1M54 603.5h1M54 604.5h1M57 604.5h1M67 604.5h1M98 604.5h1M323 604.5h1M326 604.5h1M331 604.5h1M334 604.5h1M57 606.5h1M60 606.5h1M95 606.5h1M322 606.5h1M63 607.5h1M67 607.5h1M318 607.5h1M73 608.5h1M89 608.5h1M96 608.5h1M326 608.5h1M57 609.5h2M91 609.5h1M99 609.5h1M320 609.5h1M331 609.5h1M63 610.5h1M92 610.5h1M95 610.5h1M100 610.5h1M329 610.5h1M61 611.5h1M98 611.5h1M323 611.5h2M330 611.5h1M99 612.5h1M57 613.5h1M63 613.5h1M68 613.5h1M100 613.5h1M83 614.5h1M85 614.5h1M74 615.5h1M323 615.5h2M328 615.5h1M86 616.5h1M322 616.5h1M70 617.5h1M72 617.5h1M76 617.5h1M85 617.5h1M316 617.5h1M321 617.5h1M67 618.5h1M75 618.5h1M84 618.5h1M316 618.5h1M321 618.5h1M327 618.5h1M80 619.5h1M86 619.5h1M85 620.5h1M79 621.5h1M323 621.5h2M80 622.5h1M71 623.5h2M77 623.5h1M86 623.5h1"/>
<path stroke="#a62626" d="M350 54.5h1M357 54.5h1M351 55.5h1M357 55.5h1M344 57.5h2M355 58.5h3M373 58.5h1M354 59.5h1M372 59.5h1M352 60.5h3M357 60.5h1M366 60.5h2M338 61.5h2M344 61.5h4M355 61.5h1M357 61.5h1M336 62.5h1M340 62.5h1M354 62.5h1M360 62.5h1M366 62.5h1M337 63.5h1M341 63.5h1M344 63.5h2M355 63.5h1M361 63.5h1M367 63.5h1M378 63.5h2M361 64.5h1M363 64.5h1M380 64.5h1M342 65.5h2M360 65.5h1M362 65.5h1M366 65.5h4M380 65.5h1M340 66.5h2M344 66.5h1M346 66.5h1M364 66.5h1M373 66.5h1M344 67.5h1M347 67.5h1M365 67.5h1M373 67.5h1M356 68.5h2M338 69.5h2M366 69.5h2M371 70.5h1M386 70.5h2M336 71.5h2M370 71.5h1M329 72.5h3M333 72.5h1M371 72.5h1M374 72.5h1M393 72.5h1M329 73.5h1M333 73.5h1M371 73.5h1M375 73.5h1M392 73.5h1M337 74.5h1M366 74.5h1M384 74.5h1M337 75.5h1M367 75.5h1M374 75.5h2M385 75.5h1M332 76.5h1M371 76.5h1M378 76.5h1M382 76.5h1M333 77.5h1M340 77.5h2M371 77.5h3M379 77.5h1M382 77.5h1M386 78.5h1M328 79.5h2M386 79.5h1M340 80.5h1M377 80.5h1M394 80.5h1M420 80.5h1M340 81.5h1M374 81.5h3M395 81.5h1M404 81.5h2M420 81.5h1M374 82.5h1M376 82.5h1M382 82.5h1M396 82.5h1M375 83.5h1M377 83.5h1M383 83.5h1M390 83.5h2M397 83.5h1M324 84.5h2M334 84.5h2M370 84.5h2M377 84.5h1M381 84.5h1M332 85.5h2M376 85.5h1M380 85.5h1M328 86.5h1M333 86.5h1M382 86.5h1M329 87.5h1M333 87.5h3M383 87.5h1M332 88.5h2M337 88.5h1M378 88.5h2M337 89.5h1M372 89.5h2M376 89.5h2M324 90.5h2M335 90.5h1M361 90.5h1M374 90.5h1M376 90.5h2M419 90.5h1M335 91.5h1M361 91.5h1M375 91.5h1M418 91.5h1M337 92.5h1M342 92.5h1M369 92.5h1M371 92.5h1M402 92.5h1M337 93.5h1M343 93.5h1M368 93.5h1M370 93.5h1M402 93.5h1M370 94.5h1M372 94.5h2M398 94.5h1M336 95.5h2M370 95.5h1M399 95.5h1M336 96.5h2M370 96.5h2M373 96.5h1M368 97.5h2M372 97.5h1M329 98.5h1M341 98.5h1M362 98.5h1M365 98.5h1M372 98.5h1M380 98.5h1M329 99.5h1M341 99.5h1M363 99.5h1M365 99.5h1M372 99.5h1M374 99.5h2M380 99.5h1M332 100.5h1M341 100.5h1M344 100.5h2M348 100.5h1M333 101.5h1M338 101.5h2M341 101.5h1M348 101.5h1M366 101.5h2M341 102.5h1M367 102.5h1M372 102.5h2M341 103.5h1M366 103.5h1M341 104.5h1M358 104.5h1M362 104.5h1M371 104.5h1M340 105.5h1M359 105.5h1M363 105.5h1M371 105.5h1M380 105.5h2M345 106.5h1M348 106.5h1M350 106.5h2M359 106.5h1M361 106.5h1M364 106.5h1M367 106.5h1M369 106.5h1M336 107.5h2M344 107.5h1M349 107.5h1M358 107.5h1M361 107.5h1M364 107.5h1M366 107.5h1M368 107.5h1M327 108.5h1M343 108.5h1M358 108.5h1M366 108.5h1M326 109.5h1M342 109.5h1M346 109.5h2M352 109.5h2M359 109.5h1M366 109.5h1M332 110.5h4M346 110.5h1M349 110.5h3M353 110.5h1M356 110.5h3M365 110.5h1M346 111.5h1M348 111.5h1M352 111.5h1M354 111.5h2M359 111.5h1M364 111.5h1M353 112.5h1M358 112.5h1M366 112.5h1M353 113.5h1M359 113.5h1M366 113.5h1M332 114.5h2M353 114.5h1M365 114.5h1M379 114.5h1M352 115.5h1M365 115.5h1M378 115.5h1M338 116.5h1M347 116.5h1M350 116.5h1M352 116.5h1M368 116.5h1M372 116.5h1M338 117.5h1M347 117.5h1M350 117.5h1M352 117.5h1M368 117.5h1M373 117.5h1M338 118.5h1M356 118.5h1M359 118.5h1M364 118.5h2M338 119.5h1M357 119.5h2M341 120.5h1M350 120.5h1M341 121.5h1M346 121.5h2M351 121.5h1M362 121.5h2M342 126.5h1M361 126.5h1M343 127.5h1M354 127.5h2M361 127.5h1M340 128.5h2M343 128.5h2M356 128.5h1M358 128.5h1M361 128.5h3M342 129.5h1M344 129.5h1M346 129.5h4M357 129.5h2M360 129.5h1M338 130.5h1M340 130.5h1M347 130.5h1M353 130.5h1M360 130.5h2M338 131.5h1M341 131.5h1M347 131.5h1M353 131.5h1M336 132.5h1M349 132.5h1M353 132.5h1M367 132.5h1M337 133.5h1M342 133.5h2M349 133.5h1M353 133.5h1M366 133.5h1M341 134.5h1M343 134.5h1M350 134.5h1M356 134.5h1M340 135.5h1M343 135.5h1M346 135.5h2M351 135.5h1M356 135.5h1M342 136.5h2M349 136.5h2M352 136.5h4M156 137.5h2M336 137.5h2M340 137.5h2M348 137.5h1M350 137.5h1M146 138.5h1M152 138.5h2M160 138.5h1M162 138.5h1M166 138.5h2M356 138.5h1M146 139.5h1M160 139.5h1M162 139.5h1M354 139.5h2M357 139.5h1M148 140.5h2M160 140.5h1M163 140.5h1M168 140.5h1M349 140.5h1M358 140.5h2M144 141.5h2M161 141.5h2M168 141.5h1M349 141.5h1M146 142.5h1M149 142.5h1M152 142.5h1M171 142.5h1M338 142.5h1M349 142.5h1M361 142.5h1M144 143.5h3M148 143.5h1M152 143.5h1M156 143.5h2M171 143.5h1M339 143.5h1M349 143.5h1M354 143.5h2M361 143.5h1M146 144.5h1M164 144.5h1M171 144.5h1M342 144.5h1M344 144.5h1M347 144.5h1M353 144.5h1M361 144.5h1M136 145.5h2M142 145.5h2M147 145.5h1M164 145.5h1M168 145.5h2M171 145.5h1M343 145.5h2M347 145.5h1M352 145.5h1M360 145.5h1M143 146.5h1M146 146.5h1M174 146.5h1M347 146.5h1M353 146.5h1M355 146.5h1M142 147.5h1M147 147.5h1M174 147.5h1M347 147.5h1M352 147.5h1M354 147.5h1M141 148.5h1M348 148.5h2M140 149.5h1M170 149.5h2M354 149.5h2M358 149.5h2M135 150.5h1M139 150.5h1M141 150.5h1M170 150.5h1M338 150.5h2M353 150.5h1M359 150.5h1M135 151.5h1M139 151.5h2M170 151.5h1M353 151.5h1M359 151.5h3M131 152.5h1M133 152.5h1M342 152.5h2M349 152.5h1M361 152.5h1M131 153.5h1M133 153.5h1M136 153.5h2M174 153.5h2M344 153.5h2M348 153.5h1M352 153.5h2M361 153.5h1M127 154.5h1M130 154.5h1M134 154.5h1M360 154.5h2M363 154.5h1M126 155.5h1M131 155.5h1M134 155.5h1M174 155.5h2M354 155.5h2M363 155.5h1M123 156.5h1M128 156.5h1M133 156.5h1M170 156.5h1M172 156.5h2M176 156.5h1M339 156.5h1M123 157.5h3M129 157.5h1M133 157.5h1M171 157.5h1M176 157.5h1M339 157.5h1M129 158.5h1M132 158.5h1M172 158.5h1M355 158.5h1M122 159.5h2M129 159.5h1M132 159.5h1M173 159.5h1M354 159.5h1M123 160.5h2M123 161.5h2M121 162.5h1M123 162.5h1M126 162.5h1M166 162.5h1M121 163.5h2M126 163.5h1M166 163.5h1M120 164.5h1M122 164.5h1M162 164.5h1M164 164.5h1M121 165.5h1M123 165.5h1M163 165.5h2M163 166.5h1M167 166.5h1M162 167.5h1M166 167.5h1M108 168.5h2M160 168.5h1M360 168.5h3M161 169.5h1M362 169.5h1M162 170.5h2M340 170.5h2M115 172.5h1M154 172.5h2M158 172.5h1M160 172.5h2M115 173.5h1M158 173.5h1M160 175.5h2M113 176.5h1M146 176.5h2M150 176.5h1M152 176.5h1M113 177.5h1M150 177.5h1M152 177.5h1M114 178.5h1M117 178.5h1M122 178.5h1M140 178.5h1M145 178.5h1M149 178.5h1M115 179.5h2M122 179.5h1M141 179.5h3M145 179.5h1M148 179.5h1M150 179.5h2M118 180.5h2M124 180.5h2M128 180.5h2M132 180.5h2M100 273.5h2M94 274.5h1M94 275.5h1M100 276.5h2M92 277.5h2M90 278.5h1M99 278.5h1M91 279.5h1M99 279.5h1M97 280.5h1M96 281.5h1M87 282.5h1M89 282.5h1M96 282.5h2M86 283.5h1M89 283.5h1M94 283.5h2M85 284.5h1M97 284.5h1M101 284.5h1M85 285.5h3M97 285.5h1M101 285.5h1M77 286.5h1M86 286.5h2M89 286.5h1M93 286.5h1M95 286.5h1M98 286.5h1M100 286.5h2M77 287.5h1M84 287.5h2M89 287.5h1M93 287.5h1M95 287.5h1M99 287.5h1M84 288.5h2M87 288.5h1M89 288.5h1M91 288.5h1M100 288.5h1M86 289.5h1M88 289.5h1M90 289.5h1M100 289.5h1M82 290.5h2M92 290.5h1M98 290.5h3M92 291.5h1M101 291.5h1M82 292.5h1M86 292.5h2M83 293.5h1M94 293.5h2M356 294.5h2M72 296.5h1M77 296.5h1M370 296.5h2M376 296.5h1M378 296.5h1M64 297.5h2M72 297.5h1M77 297.5h1M376 297.5h1M378 297.5h1M363 298.5h1M369 298.5h1M383 298.5h1M363 299.5h1M369 299.5h1M383 299.5h1M72 300.5h1M102 300.5h1M359 300.5h2M370 300.5h1M376 300.5h2M72 301.5h1M76 301.5h2M102 301.5h1M359 301.5h1M361 301.5h1M371 301.5h1M66 302.5h4M71 302.5h1M74 302.5h1M357 302.5h1M360 302.5h1M368 302.5h1M376 302.5h1M379 302.5h1M382 302.5h1M71 303.5h1M74 303.5h1M350 303.5h2M356 303.5h1M360 303.5h1M369 303.5h1M377 303.5h1M379 303.5h1M382 303.5h1M85 304.5h1M347 304.5h1M358 304.5h1M360 304.5h1M392 304.5h1M64 305.5h2M84 305.5h1M347 305.5h1M358 305.5h1M361 305.5h1M386 305.5h2M392 305.5h1M65 306.5h1M67 306.5h1M98 306.5h1M102 306.5h1M354 306.5h2M387 306.5h1M392 306.5h1M396 306.5h2M65 307.5h1M67 307.5h1M72 307.5h2M98 307.5h1M100 307.5h3M350 307.5h2M356 307.5h2M387 307.5h1M393 307.5h3M66 308.5h1M90 308.5h1M99 308.5h1M102 308.5h1M350 308.5h1M384 308.5h1M402 308.5h2M66 309.5h1M90 309.5h1M98 309.5h1M102 309.5h1M350 309.5h1M384 309.5h1M64 310.5h2M102 310.5h1M338 310.5h1M351 310.5h2M395 310.5h1M60 311.5h2M74 311.5h2M102 311.5h1M339 311.5h3M350 311.5h1M353 311.5h1M395 311.5h1M63 312.5h1M65 312.5h1M340 312.5h2M389 312.5h1M394 312.5h1M396 312.5h2M401 312.5h1M62 313.5h1M65 313.5h1M346 313.5h2M389 313.5h1M394 313.5h1M401 313.5h1M62 314.5h1M347 314.5h1M393 314.5h1M398 314.5h1M62 315.5h1M347 315.5h1M393 315.5h1M399 315.5h1M341 316.5h1M394 316.5h1M396 316.5h1M64 317.5h2M341 317.5h1M394 317.5h1M397 317.5h1M61 318.5h1M63 318.5h1M65 318.5h2M94 318.5h1M98 318.5h1M344 318.5h1M346 318.5h2M388 318.5h1M396 318.5h1M399 318.5h1M61 319.5h2M64 319.5h1M66 319.5h1M95 319.5h1M98 319.5h1M344 319.5h1M378 319.5h2M388 319.5h1M397 319.5h2M57 320.5h1M96 320.5h1M98 320.5h1M344 320.5h1M398 320.5h1M400 320.5h1M57 321.5h1M60 321.5h2M97 321.5h1M99 321.5h1M345 321.5h1M398 321.5h1M401 321.5h1M86 322.5h1M343 322.5h1M86 323.5h1M342 323.5h1M59 324.5h1M96 324.5h1M98 324.5h1M100 324.5h1M345 324.5h2M389 324.5h1M397 324.5h1M58 325.5h1M97 325.5h1M99 325.5h2M344 325.5h1M347 325.5h1M388 325.5h1M396 325.5h1M400 325.5h2M59 326.5h1M62 326.5h2M99 326.5h3M345 326.5h1M352 326.5h1M393 326.5h1M398 326.5h2M58 327.5h1M99 327.5h1M345 327.5h1M352 327.5h1M393 327.5h1M57 328.5h1M65 328.5h1M91 328.5h1M343 328.5h2M391 328.5h1M394 328.5h1M56 329.5h1M64 329.5h1M66 329.5h2M91 329.5h1M343 329.5h1M345 329.5h1M354 329.5h2M390 329.5h1M394 329.5h1M58 330.5h2M62 330.5h1M66 330.5h1M91 330.5h1M342 330.5h1M352 330.5h1M394 330.5h1M62 331.5h1M67 331.5h1M91 331.5h1M342 331.5h1M353 331.5h1M392 331.5h3M57 332.5h1M61 332.5h2M88 332.5h1M95 332.5h1M99 332.5h1M338 332.5h2M345 332.5h2M348 332.5h1M393 332.5h1M396 332.5h2M57 333.5h1M61 333.5h1M63 333.5h1M88 333.5h1M94 333.5h1M99 333.5h1M345 333.5h1M347 333.5h2M392 333.5h1M408 333.5h2M59 334.5h1M95 334.5h2M347 334.5h1M349 334.5h2M388 334.5h1M396 334.5h1M59 335.5h1M94 335.5h1M96 335.5h1M340 335.5h2M347 335.5h2M350 335.5h1M388 335.5h1M396 335.5h1M61 336.5h2M347 336.5h1M351 336.5h2M381 336.5h1M395 336.5h2M61 337.5h1M63 337.5h1M346 337.5h1M351 337.5h1M353 337.5h3M380 337.5h1M395 337.5h2M59 338.5h1M349 338.5h1M351 338.5h1M383 338.5h1M386 338.5h1M59 339.5h1M349 339.5h2M354 339.5h2M380 339.5h2M383 339.5h1M386 339.5h1M93 340.5h2M100 340.5h1M357 340.5h2M361 340.5h2M366 340.5h2M392 340.5h2M64 341.5h2M92 341.5h1M94 341.5h1M100 341.5h1M357 341.5h2M360 341.5h1M363 341.5h1M59 342.5h1M84 342.5h1M88 342.5h2M94 342.5h1M350 342.5h1M354 342.5h1M362 342.5h2M366 342.5h1M371 342.5h1M382 342.5h3M391 342.5h1M404 342.5h1M52 343.5h2M59 343.5h1M84 343.5h1M94 343.5h1M351 343.5h1M355 343.5h1M366 343.5h1M371 343.5h1M384 343.5h1M391 343.5h1M404 343.5h1M61 344.5h1M88 344.5h4M97 344.5h1M343 344.5h1M354 344.5h1M356 344.5h2M365 344.5h1M368 344.5h1M372 344.5h3M377 344.5h3M58 345.5h2M61 345.5h1M94 345.5h3M98 345.5h4M336 345.5h2M343 345.5h1M355 345.5h1M364 345.5h1M369 345.5h1M375 345.5h1M377 345.5h1M384 345.5h2M59 346.5h1M92 346.5h1M349 346.5h2M357 346.5h5M370 346.5h1M377 346.5h1M379 346.5h1M389 346.5h1M59 347.5h3M93 347.5h1M349 347.5h1M351 347.5h1M357 347.5h1M370 347.5h1M377 347.5h2M380 347.5h2M388 347.5h1M54 348.5h1M78 348.5h1M91 348.5h1M94 348.5h1M97 348.5h1M369 348.5h4M398 348.5h1M54 349.5h1M79 349.5h1M91 349.5h3M95 349.5h2M352 349.5h2M369 349.5h1M372 349.5h1M398 349.5h1M60 350.5h1M68 350.5h2M84 350.5h1M90 350.5h1M92 350.5h1M356 350.5h1M367 350.5h1M372 350.5h1M376 350.5h2M381 350.5h1M61 351.5h1M84 351.5h1M86 351.5h2M90 351.5h1M93 351.5h1M357 351.5h1M366 351.5h1M372 351.5h1M381 351.5h1M57 352.5h2M60 352.5h2M82 352.5h2M87 352.5h1M90 352.5h2M94 352.5h2M362 352.5h1M367 352.5h1M383 352.5h1M56 353.5h1M58 353.5h1M87 353.5h1M362 353.5h1M366 353.5h1M368 353.5h2M382 353.5h1M74 354.5h2M85 354.5h1M94 354.5h1M361 354.5h1M374 354.5h1M380 354.5h1M56 355.5h2M62 355.5h2M80 355.5h2M84 355.5h1M88 355.5h2M95 355.5h1M361 355.5h1M375 355.5h1M380 355.5h1M54 356.5h2M66 356.5h2M70 356.5h2M74 356.5h1M80 356.5h1M86 356.5h2M92 356.5h1M74 357.5h1M81 357.5h1M84 357.5h2M93 357.5h1M63 358.5h1M65 358.5h3M72 358.5h2M79 358.5h1M84 358.5h2M359 358.5h1M62 359.5h1M65 359.5h1M78 359.5h1M358 359.5h1M68 360.5h1M78 360.5h2M68 361.5h1M346 361.5h2M62 362.5h1M72 362.5h1M80 362.5h1M63 363.5h3M72 363.5h1M80 363.5h1M64 364.5h1M69 364.5h2M72 364.5h1M74 364.5h1M78 364.5h2M81 364.5h1M62 365.5h2M65 365.5h1M68 365.5h1M71 365.5h2M74 365.5h1M76 365.5h2M81 365.5h1M66 366.5h1M83 366.5h1M349 366.5h1M66 367.5h1M82 367.5h1M348 367.5h1M67 368.5h1M76 368.5h1M85 368.5h1M88 368.5h1M66 369.5h1M76 369.5h1M78 369.5h4M85 369.5h1M89 369.5h1M67 370.5h1M67 371.5h1M65 372.5h1M68 372.5h3M80 372.5h1M86 372.5h1M350 372.5h2M65 373.5h1M70 373.5h1M80 373.5h1M86 373.5h1M62 374.5h2M66 374.5h1M70 374.5h2M78 374.5h2M84 374.5h1M88 374.5h1M94 374.5h1M67 375.5h1M72 375.5h2M85 375.5h1M88 375.5h1M95 375.5h1M79 378.5h1M84 378.5h1M87 378.5h1M79 379.5h1M84 379.5h1M86 379.5h1M71 380.5h1M75 380.5h2M80 380.5h1M85 380.5h1M87 380.5h1M70 381.5h1M74 381.5h1M76 381.5h1M80 381.5h1M84 381.5h1M86 381.5h1M70 382.5h1M74 382.5h1M84 382.5h1M344 382.5h1M71 383.5h1M74 383.5h1M80 383.5h2M84 383.5h1M344 383.5h1M74 385.5h2M70 386.5h1M70 387.5h1M64 388.5h1M70 388.5h1M83 388.5h1M64 389.5h1M70 389.5h1M72 389.5h2M83 389.5h1M72 391.5h2M74 392.5h1M77 392.5h1M74 393.5h1M77 393.5h1M73 394.5h1M72 395.5h1M75 396.5h1M74 397.5h1M58 398.5h2M142 403.5h2M150 403.5h2M110 463.5h2M120 463.5h2M116 464.5h1M116 465.5h1M396 492.5h2M400 492.5h1M374 493.5h2M400 493.5h1M396 494.5h1M402 494.5h1M396 495.5h1M400 495.5h3M406 495.5h2M396 496.5h1M407 496.5h1M397 497.5h1M406 497.5h1M384 498.5h1M388 498.5h1M392 498.5h1M395 498.5h1M402 498.5h1M405 498.5h1M384 499.5h1M389 499.5h1M393 499.5h1M395 499.5h1M402 499.5h1M404 499.5h1M406 499.5h2M390 500.5h1M400 500.5h1M384 501.5h2M391 501.5h1M394 501.5h2M400 501.5h1M406 501.5h2M384 502.5h1M396 502.5h1M398 502.5h1M404 502.5h2M408 502.5h1M415 502.5h1M384 503.5h1M396 503.5h1M399 503.5h1M409 503.5h1M415 503.5h1M389 504.5h1M392 504.5h1M404 504.5h2M408 504.5h1M413 504.5h1M422 504.5h1M389 505.5h4M402 505.5h2M409 505.5h1M413 505.5h1M423 505.5h1M88 506.5h1M384 506.5h2M388 506.5h2M393 506.5h1M409 506.5h1M414 506.5h2M89 507.5h1M392 507.5h1M409 507.5h1M372 508.5h2M376 508.5h2M383 508.5h1M396 508.5h1M409 508.5h1M412 508.5h1M415 508.5h1M419 508.5h1M383 509.5h1M397 509.5h1M408 509.5h1M413 509.5h1M415 509.5h1M419 509.5h1M376 510.5h1M381 510.5h3M411 510.5h1M419 510.5h1M377 511.5h1M381 511.5h1M386 511.5h2M410 511.5h1M419 511.5h1M90 512.5h1M375 512.5h1M377 512.5h1M379 512.5h1M392 512.5h2M418 512.5h1M90 513.5h1M374 513.5h1M376 513.5h1M379 513.5h1M384 513.5h2M418 513.5h1M83 514.5h1M87 514.5h1M92 514.5h1M396 514.5h1M412 514.5h2M418 514.5h1M427 514.5h1M82 515.5h1M86 515.5h1M92 515.5h1M388 515.5h2M396 515.5h1M418 515.5h1M426 515.5h1M81 516.5h1M379 516.5h2M382 516.5h1M390 516.5h1M421 516.5h1M80 517.5h1M374 517.5h4M379 517.5h1M381 517.5h1M383 517.5h1M390 517.5h1M418 517.5h2M421 517.5h1M82 518.5h1M372 518.5h1M375 518.5h3M83 519.5h1M373 519.5h2M78 520.5h1M80 520.5h2M87 520.5h2M90 520.5h1M94 520.5h1M375 520.5h2M408 520.5h1M420 520.5h2M425 520.5h1M78 521.5h1M86 521.5h1M89 521.5h2M95 521.5h1M362 521.5h2M374 521.5h1M377 521.5h1M409 521.5h1M425 521.5h1M72 522.5h2M76 522.5h1M81 522.5h1M374 522.5h1M379 522.5h1M418 522.5h2M77 523.5h1M81 523.5h1M375 523.5h1M379 523.5h1M400 523.5h2M89 524.5h1M100 524.5h1M88 525.5h1M96 525.5h2M100 525.5h1M78 526.5h2M82 526.5h1M91 526.5h1M366 526.5h1M370 526.5h1M83 527.5h1M91 527.5h1M366 527.5h1M370 527.5h1M374 527.5h2M79 528.5h1M98 528.5h2M101 528.5h1M369 528.5h1M416 528.5h2M422 528.5h3M78 529.5h1M80 529.5h2M101 529.5h1M369 529.5h1M372 529.5h2M425 529.5h1M78 530.5h2M97 530.5h1M359 530.5h1M368 530.5h1M415 530.5h1M96 531.5h1M356 531.5h3M369 531.5h3M414 531.5h1M72 532.5h1M354 532.5h2M72 533.5h1M84 533.5h2M98 533.5h2M368 533.5h2M95 534.5h1M97 534.5h2M369 534.5h1M420 534.5h1M424 534.5h1M95 535.5h1M97 535.5h1M99 535.5h1M368 535.5h1M420 535.5h1M424 535.5h1M73 536.5h1M361 536.5h1M366 536.5h1M429 536.5h1M72 537.5h1M361 537.5h1M364 537.5h3M428 537.5h1M97 538.5h1M99 538.5h3M359 538.5h1M368 538.5h2M376 538.5h1M418 538.5h1M422 538.5h2M96 539.5h1M98 539.5h1M358 539.5h1M377 539.5h1M418 539.5h1M69 540.5h3M369 540.5h1M372 540.5h1M417 540.5h1M425 540.5h1M68 541.5h1M369 541.5h1M373 541.5h1M417 541.5h1M424 541.5h1M99 542.5h1M364 542.5h1M372 542.5h3M421 542.5h1M423 542.5h1M99 543.5h1M365 543.5h1M370 543.5h2M375 543.5h1M418 543.5h3M422 543.5h1M424 543.5h2M366 544.5h1M369 544.5h1M421 544.5h1M100 545.5h2M366 545.5h1M369 545.5h1M420 545.5h1M68 546.5h2M71 546.5h1M100 546.5h1M357 546.5h2M360 546.5h1M365 546.5h1M368 546.5h1M418 546.5h1M421 546.5h1M426 546.5h2M70 547.5h1M101 547.5h1M357 547.5h1M359 547.5h1M361 547.5h1M364 547.5h1M368 547.5h1M419 547.5h2M101 548.5h1M364 548.5h3M382 548.5h1M415 548.5h1M418 548.5h2M423 548.5h1M100 549.5h1M362 549.5h2M366 549.5h1M383 549.5h1M414 549.5h1M423 549.5h1M66 550.5h1M99 550.5h1M355 550.5h1M372 550.5h1M376 550.5h1M66 551.5h1M98 551.5h1M354 551.5h1M364 551.5h2M373 551.5h1M376 551.5h1M420 551.5h2M69 552.5h1M98 552.5h2M357 552.5h1M360 552.5h2M370 552.5h1M372 552.5h1M408 552.5h1M422 552.5h1M69 553.5h1M357 553.5h1M362 553.5h2M370 553.5h1M373 553.5h1M409 553.5h1M423 553.5h1M59 554.5h1M64 554.5h4M71 554.5h1M101 554.5h1M354 554.5h1M360 554.5h1M362 554.5h1M364 554.5h1M368 554.5h1M376 554.5h1M414 554.5h2M420 554.5h2M58 555.5h1M70 555.5h1M100 555.5h1M355 555.5h1M360 555.5h1M362 555.5h1M364 555.5h1M369 555.5h3M377 555.5h1M66 556.5h4M91 556.5h1M353 556.5h1M368 556.5h1M391 556.5h1M417 556.5h1M56 557.5h2M90 557.5h1M353 557.5h1M368 557.5h1M391 557.5h1M416 557.5h1M102 558.5h1M354 558.5h1M364 558.5h1M102 559.5h1M354 559.5h1M365 559.5h1M63 560.5h1M65 560.5h1M103 560.5h1M352 560.5h1M355 560.5h1M358 560.5h1M367 560.5h2M375 560.5h1M377 560.5h1M421 560.5h1M425 560.5h1M63 561.5h1M65 561.5h1M102 561.5h1M353 561.5h1M355 561.5h1M359 561.5h3M367 561.5h1M369 561.5h1M375 561.5h1M377 561.5h1M408 561.5h2M421 561.5h1M425 561.5h1M54 562.5h2M59 562.5h1M373 562.5h1M376 562.5h1M379 562.5h1M406 562.5h1M59 563.5h1M338 563.5h2M372 563.5h1M374 563.5h3M379 563.5h1M407 563.5h1M414 563.5h2M62 564.5h1M64 564.5h1M67 564.5h1M70 564.5h1M347 564.5h1M355 564.5h1M375 564.5h1M380 564.5h1M391 564.5h1M414 564.5h1M419 564.5h1M63 565.5h1M65 565.5h1M67 565.5h1M70 565.5h1M346 565.5h1M354 565.5h1M375 565.5h1M381 565.5h1M390 565.5h1M408 565.5h2M414 565.5h1M419 565.5h1M50 566.5h1M52 566.5h1M101 566.5h2M342 566.5h1M345 566.5h1M350 566.5h1M360 566.5h1M366 566.5h1M376 566.5h1M378 566.5h2M402 566.5h2M411 566.5h1M413 566.5h3M417 566.5h1M51 567.5h2M66 567.5h2M101 567.5h1M103 567.5h1M343 567.5h2M350 567.5h1M361 567.5h1M364 567.5h2M367 567.5h1M372 567.5h2M377 567.5h1M411 567.5h1M413 567.5h1M416 567.5h1M66 568.5h3M340 568.5h2M363 568.5h1M374 568.5h2M377 568.5h1M408 568.5h2M68 569.5h1M363 569.5h1M377 569.5h1M382 569.5h2M46 570.5h1M66 570.5h1M70 570.5h2M349 570.5h1M369 570.5h1M372 570.5h1M374 570.5h2M378 570.5h1M382 570.5h2M390 570.5h1M397 570.5h1M402 570.5h1M410 570.5h1M46 571.5h1M66 571.5h1M342 571.5h2M348 571.5h1M362 571.5h2M368 571.5h1M373 571.5h1M379 571.5h1M390 571.5h1M396 571.5h1M402 571.5h1M411 571.5h1M66 572.5h1M71 572.5h1M100 572.5h1M343 572.5h1M347 572.5h1M350 572.5h1M369 572.5h1M372 572.5h2M382 572.5h1M385 572.5h1M400 572.5h1M402 572.5h1M412 572.5h1M66 573.5h1M71 573.5h1M100 573.5h1M343 573.5h1M346 573.5h1M351 573.5h1M368 573.5h1M382 573.5h1M384 573.5h1M401 573.5h1M403 573.5h1M412 573.5h1M67 574.5h1M69 574.5h1M335 574.5h1M354 574.5h2M371 574.5h1M384 574.5h1M388 574.5h2M403 574.5h1M407 574.5h1M52 575.5h2M62 575.5h2M67 575.5h1M69 575.5h1M335 575.5h1M356 575.5h2M370 575.5h1M385 575.5h1M402 575.5h1M406 575.5h1M68 576.5h1M342 576.5h1M380 576.5h2M386 576.5h1M388 576.5h2M394 576.5h1M397 576.5h1M400 576.5h2M408 576.5h2M46 577.5h2M69 577.5h1M336 577.5h2M342 577.5h1M352 577.5h2M382 577.5h2M386 577.5h1M394 577.5h1M396 577.5h1M49 578.5h1M61 578.5h1M69 578.5h1M74 578.5h1M100 578.5h4M340 578.5h1M342 578.5h3M347 578.5h1M382 578.5h1M389 578.5h1M394 578.5h1M396 578.5h1M399 578.5h3M404 578.5h1M49 579.5h1M56 579.5h2M61 579.5h1M64 579.5h2M69 579.5h1M74 579.5h1M341 579.5h1M344 579.5h1M347 579.5h1M382 579.5h1M389 579.5h1M394 579.5h1M396 579.5h1M398 579.5h1M404 579.5h1M58 580.5h1M63 580.5h2M66 580.5h2M98 580.5h1M102 580.5h2M387 580.5h1M394 580.5h1M52 581.5h2M58 581.5h1M62 581.5h1M65 581.5h1M99 581.5h1M332 581.5h2M340 581.5h2M386 581.5h1M395 581.5h3M400 581.5h2M59 582.5h1M69 582.5h3M100 582.5h1M330 582.5h1M340 582.5h2M348 582.5h2M395 582.5h2M398 582.5h1M59 583.5h1M64 583.5h2M68 583.5h1M100 583.5h1M331 583.5h1M336 583.5h2M394 583.5h1M396 583.5h1M398 583.5h1M62 584.5h2M69 584.5h1M100 584.5h2M330 584.5h1M388 584.5h2M68 585.5h1M331 585.5h1M48 586.5h1M60 586.5h1M64 586.5h1M69 586.5h1M96 586.5h1M99 586.5h1M383 586.5h1M49 587.5h1M52 587.5h2M61 587.5h1M64 587.5h1M69 587.5h1M96 587.5h1M98 587.5h1M328 587.5h2M340 587.5h2M383 587.5h1M75 588.5h1M97 588.5h2M100 588.5h1M340 588.5h1M374 588.5h2M50 589.5h2M75 589.5h1M96 589.5h1M99 589.5h1M101 589.5h1M340 589.5h1M54 590.5h1M64 590.5h2M67 590.5h3M93 590.5h1M326 590.5h1M338 590.5h2M341 590.5h1M343 590.5h1M55 591.5h1M67 591.5h1M70 591.5h2M74 591.5h2M93 591.5h1M327 591.5h1M341 591.5h1M343 591.5h1M61 592.5h1M68 592.5h1M72 592.5h1M74 592.5h1M96 592.5h1M330 592.5h3M61 593.5h1M66 593.5h3M72 593.5h1M75 593.5h1M96 593.5h1M332 593.5h1M92 594.5h2M99 594.5h1M330 594.5h1M336 594.5h2M339 594.5h2M342 594.5h2M48 595.5h2M99 595.5h1M331 595.5h1M338 595.5h1M340 595.5h1M68 596.5h1M72 596.5h1M74 596.5h2M96 596.5h2M68 597.5h1M73 597.5h1M104 597.5h2M376 597.5h2M67 598.5h1M96 598.5h2M67 599.5h1M64 600.5h1M68 600.5h1M79 600.5h1M82 600.5h2M86 600.5h1M90 600.5h2M95 600.5h1M100 600.5h1M327 600.5h1M330 600.5h2M336 600.5h2M64 601.5h1M68 601.5h1M79 601.5h1M86 601.5h1M94 601.5h1M100 601.5h1M326 601.5h1M94 602.5h3M98 602.5h1M324 602.5h1M56 603.5h2M62 603.5h4M97 603.5h2M324 603.5h1M62 604.5h1M97 604.5h1M325 604.5h1M58 605.5h2M63 605.5h1M92 605.5h5M325 605.5h1M71 606.5h1M82 606.5h2M89 606.5h1M93 606.5h1M321 606.5h1M332 606.5h1M71 607.5h1M89 607.5h1M92 607.5h1M320 607.5h1M328 607.5h2M333 607.5h1M66 608.5h1M69 608.5h1M84 608.5h1M319 608.5h1M324 608.5h2M328 608.5h1M332 608.5h1M60 609.5h2M67 609.5h1M69 609.5h1M80 609.5h2M85 609.5h1M94 609.5h2M319 609.5h1M329 609.5h1M333 609.5h1M58 610.5h1M64 610.5h2M75 610.5h1M79 610.5h1M90 610.5h2M96 610.5h2M59 611.5h1M74 611.5h1M78 611.5h1M86 611.5h2M58 612.5h4M64 612.5h1M79 612.5h2M82 612.5h1M88 612.5h1M90 612.5h2M94 612.5h1M322 612.5h1M325 612.5h1M64 613.5h1M78 613.5h1M80 613.5h1M83 613.5h3M88 613.5h1M94 613.5h1M322 613.5h1M324 613.5h1M66 614.5h2M89 614.5h1M92 614.5h1M318 614.5h2M78 615.5h2M89 615.5h1M93 615.5h1M75 616.5h1M83 616.5h1M88 616.5h2M98 616.5h1M324 616.5h2M327 616.5h1M52 617.5h2M74 617.5h1M83 617.5h1M98 617.5h1M327 617.5h1M70 618.5h3M76 618.5h1M79 618.5h1M88 618.5h2M72 619.5h1M76 619.5h1M79 619.5h1M82 620.5h1M321 620.5h1M82 621.5h1M321 621.5h1M78 622.5h1M318 622.5h1M79 623.5h1M84 623.5h2M319 623.5h1"/>
<path stroke="#d21313" d="M346 58.5h1M348 58.5h2M359 58.5h1M346 59.5h3M358 59.5h2M343 60.5h1M359 60.5h2M364 60.5h1M342 61.5h2M358 61.5h4M364 61.5h2M342 62.5h2M347 62.5h1M350 62.5h2M359 62.5h1M363 62.5h2M342 63.5h1M346 63.5h2M350 63.5h1M358 63.5h2M362 63.5h4M350 64.5h2M358 64.5h2M364 64.5h1M372 64.5h1M390 64.5h2M351 65.5h1M359 65.5h1M364 65.5h2M372 65.5h2M391 65.5h1M359 66.5h1M361 66.5h1M366 66.5h2M358 67.5h4M367 67.5h1M328 68.5h2M340 68.5h2M343 68.5h1M347 68.5h1M362 68.5h4M372 68.5h2M378 68.5h2M394 68.5h1M329 69.5h1M341 69.5h3M346 69.5h2M362 69.5h1M364 69.5h1M373 69.5h1M378 69.5h1M394 69.5h2M340 70.5h2M366 70.5h2M375 70.5h1M341 71.5h1M366 71.5h1M374 71.5h2M336 72.5h1M340 72.5h1M349 72.5h1M367 72.5h1M369 72.5h1M336 73.5h2M340 73.5h2M348 73.5h2M366 73.5h4M346 74.5h2M362 74.5h2M368 74.5h1M347 75.5h1M363 75.5h1M368 75.5h2M338 76.5h1M366 76.5h1M374 76.5h4M338 77.5h2M366 77.5h2M374 77.5h1M377 77.5h1M332 78.5h1M370 78.5h2M376 78.5h2M332 79.5h2M370 79.5h1M377 79.5h1M366 80.5h1M369 80.5h1M371 80.5h3M406 80.5h2M366 81.5h7M406 81.5h1M335 82.5h1M351 82.5h1M366 82.5h2M373 82.5h1M334 83.5h2M350 83.5h2M367 83.5h1M372 83.5h2M337 84.5h1M340 84.5h2M373 84.5h1M336 85.5h2M341 85.5h1M372 85.5h2M339 86.5h3M364 86.5h2M371 86.5h1M338 87.5h3M365 87.5h1M370 87.5h2M328 88.5h1M334 88.5h1M339 88.5h1M346 88.5h2M364 88.5h2M370 88.5h1M375 88.5h1M328 89.5h2M334 89.5h2M338 89.5h2M346 89.5h1M364 89.5h1M370 89.5h2M374 89.5h2M336 90.5h3M348 90.5h2M362 90.5h1M367 90.5h1M369 90.5h1M371 90.5h3M378 90.5h1M337 91.5h3M349 91.5h1M362 91.5h2M366 91.5h7M378 91.5h2M366 92.5h2M374 92.5h2M366 93.5h1M375 93.5h1M338 94.5h4M348 94.5h1M360 94.5h2M374 94.5h2M339 95.5h1M341 95.5h1M348 95.5h2M360 95.5h1M374 95.5h1M338 96.5h2M343 96.5h2M349 96.5h1M354 96.5h2M358 96.5h1M362 96.5h4M338 97.5h1M342 97.5h4M348 97.5h2M354 97.5h1M358 97.5h2M363 97.5h2M344 98.5h2M367 98.5h1M370 98.5h2M345 99.5h1M366 99.5h2M371 99.5h1M350 100.5h2M358 100.5h4M364 100.5h2M371 100.5h1M351 101.5h1M359 101.5h2M364 101.5h1M370 101.5h2M344 102.5h2M347 102.5h1M349 102.5h1M355 102.5h1M359 102.5h1M361 102.5h1M364 102.5h2M344 103.5h1M346 103.5h4M354 103.5h2M358 103.5h4M365 103.5h1M345 104.5h1M354 104.5h2M357 104.5h1M344 105.5h2M355 105.5h3M347 106.5h1M353 106.5h1M356 106.5h2M346 107.5h2M352 107.5h2M357 107.5h1M357 108.5h1M362 108.5h1M356 109.5h2M362 109.5h2M348 112.5h2M361 112.5h1M349 113.5h1M360 113.5h2M342 114.5h1M350 114.5h2M355 114.5h3M360 114.5h2M342 115.5h2M351 115.5h1M354 115.5h2M357 115.5h1M361 115.5h1M354 116.5h1M358 116.5h1M354 117.5h2M358 117.5h2M340 118.5h4M350 118.5h1M353 118.5h1M360 118.5h2M341 119.5h1M343 119.5h1M350 119.5h4M360 119.5h1M348 120.5h2M348 121.5h1M342 122.5h2M352 122.5h4M358 122.5h2M343 123.5h1M353 123.5h1M355 123.5h1M359 123.5h1M342 124.5h1M348 124.5h1M352 124.5h1M354 124.5h1M342 125.5h2M348 125.5h2M352 125.5h4M346 126.5h3M350 126.5h2M357 126.5h1M363 126.5h1M347 127.5h4M356 127.5h2M362 127.5h2M354 128.5h2M354 129.5h1M348 130.5h1M350 130.5h2M354 130.5h3M348 131.5h2M351 131.5h1M355 131.5h3M355 132.5h1M357 132.5h1M354 133.5h4M344 134.5h2M345 135.5h1M152 136.5h1M163 136.5h1M360 136.5h2M152 137.5h2M162 137.5h2M361 137.5h1M148 138.5h1M347 138.5h1M350 138.5h4M148 139.5h2M346 139.5h2M351 139.5h1M353 139.5h1M150 140.5h6M165 140.5h1M344 140.5h2M356 140.5h2M151 141.5h1M153 141.5h1M155 141.5h1M164 141.5h2M344 141.5h1M356 141.5h1M150 142.5h2M159 142.5h2M163 142.5h1M166 142.5h4M342 142.5h2M346 142.5h2M350 142.5h2M356 142.5h1M151 143.5h1M158 143.5h6M167 143.5h1M169 143.5h1M343 143.5h1M346 143.5h1M350 143.5h1M356 143.5h2M144 144.5h2M149 144.5h1M153 144.5h1M159 144.5h2M166 144.5h2M348 144.5h2M354 144.5h2M145 145.5h1M148 145.5h2M152 145.5h2M158 145.5h4M167 145.5h1M349 145.5h1M355 145.5h1M144 146.5h1M154 146.5h1M158 146.5h2M162 146.5h1M166 146.5h1M144 147.5h2M154 147.5h2M158 147.5h1M162 147.5h2M166 147.5h2M143 148.5h2M148 148.5h1M151 148.5h2M168 148.5h2M173 148.5h1M360 148.5h2M142 149.5h4M148 149.5h6M168 149.5h1M172 149.5h2M360 149.5h1M142 150.5h4M163 150.5h1M165 150.5h1M172 150.5h2M142 151.5h1M145 151.5h1M162 151.5h4M172 151.5h1M135 152.5h1M138 152.5h2M141 152.5h1M143 152.5h1M168 152.5h1M170 152.5h1M173 152.5h1M134 153.5h2M139 153.5h5M168 153.5h6M133 154.5h1M137 154.5h1M142 154.5h1M144 154.5h2M169 154.5h2M132 155.5h2M136 155.5h2M142 155.5h3M168 155.5h4M131 156.5h1M135 156.5h1M130 157.5h2M134 157.5h2M124 158.5h1M168 158.5h2M124 159.5h2M169 159.5h1M120 160.5h2M129 160.5h1M164 160.5h1M170 160.5h1M121 161.5h1M128 161.5h2M164 161.5h2M170 161.5h2M129 162.5h1M169 162.5h1M128 163.5h2M168 163.5h2M122 166.5h6M160 166.5h2M122 167.5h1M124 167.5h1M127 167.5h1M160 167.5h1M112 168.5h1M118 168.5h1M121 168.5h1M123 168.5h3M152 168.5h2M112 169.5h2M118 169.5h7M152 169.5h1M114 170.5h2M118 170.5h2M156 170.5h1M160 170.5h2M114 171.5h1M119 171.5h1M156 171.5h2M160 171.5h1M118 172.5h4M150 172.5h4M156 172.5h2M119 173.5h2M150 173.5h1M152 173.5h1M157 173.5h1M118 174.5h4M146 174.5h2M153 174.5h3M118 175.5h1M121 175.5h1M147 175.5h1M152 175.5h3M114 176.5h4M120 176.5h2M123 176.5h5M131 176.5h1M136 176.5h1M139 176.5h3M149 176.5h1M114 177.5h1M117 177.5h1M121 177.5h3M125 177.5h2M130 177.5h2M136 177.5h5M148 177.5h2M118 178.5h1M120 178.5h1M126 178.5h1M128 178.5h6M136 178.5h2M139 178.5h1M118 179.5h4M126 179.5h2M129 179.5h1M131 179.5h2M137 179.5h3M88 276.5h2M88 277.5h1M94 278.5h2M95 279.5h1M84 282.5h1M90 282.5h1M93 282.5h1M84 283.5h2M90 283.5h4M82 284.5h2M88 284.5h2M95 284.5h1M83 285.5h1M89 285.5h1M94 285.5h2M79 286.5h1M90 286.5h2M97 286.5h1M78 287.5h2M90 287.5h1M96 287.5h2M78 288.5h2M83 288.5h1M93 288.5h5M78 289.5h1M82 289.5h2M92 289.5h3M96 289.5h1M77 290.5h1M86 290.5h2M89 290.5h3M94 290.5h3M76 291.5h2M86 291.5h1M88 291.5h2M91 291.5h1M94 291.5h1M96 291.5h2M79 292.5h3M97 292.5h2M101 292.5h1M78 293.5h3M96 293.5h6M76 294.5h1M79 294.5h2M87 294.5h1M98 294.5h4M76 295.5h6M86 295.5h2M98 295.5h1M100 295.5h1M74 296.5h2M78 296.5h1M80 296.5h2M83 296.5h1M87 296.5h1M91 296.5h1M98 296.5h4M75 297.5h1M78 297.5h2M81 297.5h3M86 297.5h2M90 297.5h2M98 297.5h1M100 297.5h1M71 298.5h1M80 298.5h1M82 298.5h1M96 298.5h1M98 298.5h2M371 298.5h1M377 298.5h1M380 298.5h2M70 299.5h2M80 299.5h4M96 299.5h3M370 299.5h2M376 299.5h2M380 299.5h1M64 300.5h2M74 300.5h1M81 300.5h1M92 300.5h1M94 300.5h1M100 300.5h2M363 300.5h1M366 300.5h2M374 300.5h1M380 300.5h1M64 301.5h1M74 301.5h2M80 301.5h2M92 301.5h4M100 301.5h1M362 301.5h2M366 301.5h1M374 301.5h2M380 301.5h2M72 302.5h2M76 302.5h2M80 302.5h2M86 302.5h2M354 302.5h2M362 302.5h2M365 302.5h1M373 302.5h1M380 302.5h1M73 303.5h1M76 303.5h1M81 303.5h1M86 303.5h1M355 303.5h1M362 303.5h1M364 303.5h2M372 303.5h2M380 303.5h2M70 304.5h1M76 304.5h2M80 304.5h3M88 304.5h1M364 304.5h2M370 304.5h1M378 304.5h1M380 304.5h4M385 304.5h1M389 304.5h1M70 305.5h2M77 305.5h1M80 305.5h1M82 305.5h2M88 305.5h2M365 305.5h1M370 305.5h2M378 305.5h3M382 305.5h1M384 305.5h2M388 305.5h2M68 306.5h2M74 306.5h2M78 306.5h1M83 306.5h2M88 306.5h2M358 306.5h1M360 306.5h2M364 306.5h2M370 306.5h2M380 306.5h1M384 306.5h1M388 306.5h1M390 306.5h2M68 307.5h1M74 307.5h1M78 307.5h2M82 307.5h4M89 307.5h1M358 307.5h2M361 307.5h1M364 307.5h1M370 307.5h1M380 307.5h2M384 307.5h2M388 307.5h3M68 308.5h2M71 308.5h3M76 308.5h2M92 308.5h2M96 308.5h2M100 308.5h2M352 308.5h1M357 308.5h1M365 308.5h1M376 308.5h1M378 308.5h1M392 308.5h1M68 309.5h1M70 309.5h3M76 309.5h1M92 309.5h1M97 309.5h1M100 309.5h1M352 309.5h2M356 309.5h2M364 309.5h2M376 309.5h4M392 309.5h2M68 310.5h1M72 310.5h2M77 310.5h1M82 310.5h2M94 310.5h1M96 310.5h2M355 310.5h1M358 310.5h2M383 310.5h1M386 310.5h2M392 310.5h2M68 311.5h2M72 311.5h1M76 311.5h2M82 311.5h1M94 311.5h2M97 311.5h1M354 311.5h2M359 311.5h1M382 311.5h2M387 311.5h1M392 311.5h1M67 312.5h5M93 312.5h1M95 312.5h3M100 312.5h2M349 312.5h1M351 312.5h1M353 312.5h2M358 312.5h1M362 312.5h2M390 312.5h2M66 313.5h3M70 313.5h1M92 313.5h4M97 313.5h1M101 313.5h1M348 313.5h8M358 313.5h2M363 313.5h1M391 313.5h1M60 314.5h1M64 314.5h1M76 314.5h1M80 314.5h1M98 314.5h2M101 314.5h1M364 314.5h2M381 314.5h1M404 314.5h1M60 315.5h2M64 315.5h2M76 315.5h2M80 315.5h2M99 315.5h3M365 315.5h1M380 315.5h2M404 315.5h2M61 316.5h1M68 316.5h4M92 316.5h4M99 316.5h2M348 316.5h2M351 316.5h1M354 316.5h1M60 317.5h2M68 317.5h1M71 317.5h1M92 317.5h1M94 317.5h1M98 317.5h4M349 317.5h3M354 317.5h2M83 318.5h1M96 318.5h2M100 318.5h2M348 318.5h2M384 318.5h2M393 318.5h3M82 319.5h2M97 319.5h1M100 319.5h1M349 319.5h1M385 319.5h1M392 319.5h2M395 319.5h1M59 320.5h1M63 320.5h1M346 320.5h10M366 320.5h1M394 320.5h2M58 321.5h2M62 321.5h2M347 321.5h1M349 321.5h2M352 321.5h1M355 321.5h1M366 321.5h2M394 321.5h1M59 322.5h3M63 322.5h1M67 322.5h1M80 322.5h2M88 322.5h1M94 322.5h4M345 322.5h4M390 322.5h1M392 322.5h4M58 323.5h2M61 323.5h3M66 323.5h2M80 323.5h1M88 323.5h2M95 323.5h1M97 323.5h1M344 323.5h2M347 323.5h3M390 323.5h3M395 323.5h1M61 324.5h1M63 324.5h1M67 324.5h2M70 324.5h2M94 324.5h1M349 324.5h3M356 324.5h1M358 324.5h2M391 324.5h2M394 324.5h2M60 325.5h4M66 325.5h4M71 325.5h1M94 325.5h2M348 325.5h2M351 325.5h1M356 325.5h2M359 325.5h1M390 325.5h5M60 326.5h1M64 326.5h2M91 326.5h1M343 326.5h1M351 326.5h1M386 326.5h2M60 327.5h2M64 327.5h1M90 327.5h2M342 327.5h2M350 327.5h2M387 327.5h1M58 328.5h4M92 328.5h2M97 328.5h1M346 328.5h2M352 328.5h2M388 328.5h2M392 328.5h2M396 328.5h2M59 329.5h1M61 329.5h1M92 329.5h1M96 329.5h2M347 329.5h1M352 329.5h1M389 329.5h1M393 329.5h1M396 329.5h1M84 330.5h1M88 330.5h1M96 330.5h2M348 330.5h2M382 330.5h2M388 330.5h1M84 331.5h2M88 331.5h2M97 331.5h1M349 331.5h1M383 331.5h1M388 331.5h2M58 332.5h2M64 332.5h2M70 332.5h2M86 332.5h2M90 332.5h1M92 332.5h2M350 332.5h2M358 332.5h2M362 332.5h2M380 332.5h1M383 332.5h1M386 332.5h4M59 333.5h1M65 333.5h1M71 333.5h1M86 333.5h1M90 333.5h3M351 333.5h1M359 333.5h1M362 333.5h1M380 333.5h4M387 333.5h2M61 334.5h1M64 334.5h2M77 334.5h1M82 334.5h2M88 334.5h1M90 334.5h2M353 334.5h1M355 334.5h1M368 334.5h2M380 334.5h1M384 334.5h4M60 335.5h2M65 335.5h1M76 335.5h2M83 335.5h1M88 335.5h3M352 335.5h4M368 335.5h1M380 335.5h2M385 335.5h2M72 336.5h1M82 336.5h1M84 336.5h1M90 336.5h1M93 336.5h2M358 336.5h2M368 336.5h2M374 336.5h1M376 336.5h2M382 336.5h2M390 336.5h2M393 336.5h1M72 337.5h2M82 337.5h4M90 337.5h6M358 337.5h1M369 337.5h1M374 337.5h2M377 337.5h1M382 337.5h1M391 337.5h3M64 338.5h4M84 338.5h2M89 338.5h4M94 338.5h2M352 338.5h1M359 338.5h1M362 338.5h2M372 338.5h2M376 338.5h1M384 338.5h1M390 338.5h1M65 339.5h1M67 339.5h1M84 339.5h1M88 339.5h3M92 339.5h3M352 339.5h2M358 339.5h2M363 339.5h1M372 339.5h1M376 339.5h2M384 339.5h2M390 339.5h2M54 340.5h2M58 340.5h1M61 340.5h1M63 340.5h1M88 340.5h1M96 340.5h2M354 340.5h2M365 340.5h1M370 340.5h2M375 340.5h1M380 340.5h2M383 340.5h1M387 340.5h1M55 341.5h1M58 341.5h6M88 341.5h2M96 341.5h1M355 341.5h1M364 341.5h2M370 341.5h1M374 341.5h2M380 341.5h1M382 341.5h2M386 341.5h2M54 342.5h2M62 342.5h1M69 342.5h1M74 342.5h1M78 342.5h2M81 342.5h1M86 342.5h2M92 342.5h1M353 342.5h1M356 342.5h2M365 342.5h1M368 342.5h2M372 342.5h2M375 342.5h1M378 342.5h2M54 343.5h1M62 343.5h2M68 343.5h2M74 343.5h2M79 343.5h3M87 343.5h1M92 343.5h2M352 343.5h2M357 343.5h1M364 343.5h2M368 343.5h1M373 343.5h3M379 343.5h1M56 344.5h2M66 344.5h2M85 344.5h1M360 344.5h4M370 344.5h2M380 344.5h3M56 345.5h1M67 345.5h1M84 345.5h2M360 345.5h1M363 345.5h1M371 345.5h1M381 345.5h3M63 346.5h5M70 346.5h1M72 346.5h2M80 346.5h1M82 346.5h2M85 346.5h3M367 346.5h1M372 346.5h4M62 347.5h3M66 347.5h1M70 347.5h2M73 347.5h1M80 347.5h3M84 347.5h3M366 347.5h2M372 347.5h1M375 347.5h1M56 348.5h2M62 348.5h1M64 348.5h1M68 348.5h1M80 348.5h2M84 348.5h2M359 348.5h7M367 348.5h1M56 349.5h1M62 349.5h4M68 349.5h2M81 349.5h1M84 349.5h1M358 349.5h3M362 349.5h1M364 349.5h1M366 349.5h2M62 350.5h2M66 350.5h2M72 350.5h2M78 350.5h2M88 350.5h2M62 351.5h1M67 351.5h1M73 351.5h1M79 351.5h1M88 351.5h1M62 352.5h2M66 352.5h2M70 352.5h2M77 352.5h5M84 352.5h2M356 352.5h3M63 353.5h1M66 353.5h1M70 353.5h1M76 353.5h3M81 353.5h1M85 353.5h1M357 353.5h3M79 354.5h1M82 354.5h1M78 355.5h2M82 355.5h2M79 356.5h1M78 357.5h2M56 358.5h1M68 358.5h1M74 358.5h2M77 358.5h1M82 358.5h2M56 359.5h2M68 359.5h2M74 359.5h1M76 359.5h2M83 359.5h1M58 360.5h1M71 360.5h3M82 360.5h1M84 360.5h2M58 361.5h2M70 361.5h3M82 361.5h2M85 361.5h1M66 362.5h2M70 362.5h1M76 362.5h1M78 362.5h2M82 362.5h2M66 363.5h1M70 363.5h2M76 363.5h2M79 363.5h1M83 363.5h1M82 364.5h4M82 365.5h1M84 365.5h1M72 366.5h3M84 366.5h1M73 367.5h3M84 367.5h2M65 368.5h1M82 368.5h2M64 369.5h2M83 369.5h1M70 370.5h1M77 370.5h1M70 371.5h2M76 371.5h2M76 372.5h1M78 372.5h2M85 372.5h1M76 373.5h3M84 373.5h2M81 374.5h1M90 374.5h2M80 375.5h2M90 375.5h1M72 376.5h3M82 376.5h1M73 377.5h3M82 377.5h2M69 378.5h1M74 378.5h2M68 379.5h2M74 379.5h1M70 384.5h2M77 384.5h1M70 385.5h1M76 385.5h2M71 392.5h1M70 393.5h2M399 498.5h2M412 498.5h2M398 499.5h4M413 499.5h1M397 500.5h1M402 500.5h1M396 501.5h2M402 501.5h2M386 502.5h2M389 502.5h2M392 502.5h3M387 503.5h5M393 503.5h3M385 504.5h3M396 504.5h2M400 504.5h2M407 504.5h1M411 504.5h1M384 505.5h3M396 505.5h1M401 505.5h1M406 505.5h2M410 505.5h2M391 506.5h1M395 506.5h1M399 506.5h1M401 506.5h2M404 506.5h3M421 506.5h1M390 507.5h2M394 507.5h2M398 507.5h7M406 507.5h2M420 507.5h2M380 508.5h2M386 508.5h2M398 508.5h4M403 508.5h2M406 508.5h2M410 508.5h1M416 508.5h2M381 509.5h1M387 509.5h1M398 509.5h1M401 509.5h5M407 509.5h1M410 509.5h2M416 509.5h1M384 510.5h2M388 510.5h1M392 510.5h1M396 510.5h2M406 510.5h3M384 511.5h1M388 511.5h2M392 511.5h2M397 511.5h1M406 511.5h1M408 511.5h2M380 512.5h4M390 512.5h2M406 512.5h2M409 512.5h1M414 512.5h3M420 512.5h2M381 513.5h1M383 513.5h1M390 513.5h1M406 513.5h1M408 513.5h2M414 513.5h1M416 513.5h2M420 513.5h1M387 514.5h1M390 514.5h1M402 514.5h1M416 514.5h1M386 515.5h2M390 515.5h2M402 515.5h2M416 515.5h2M387 516.5h1M389 516.5h1M402 516.5h2M406 516.5h4M414 516.5h1M386 517.5h4M402 517.5h1M407 517.5h2M414 517.5h2M86 518.5h2M90 518.5h2M368 518.5h1M379 518.5h1M381 518.5h1M383 518.5h3M392 518.5h1M412 518.5h1M414 518.5h3M418 518.5h1M421 518.5h1M87 519.5h1M91 519.5h1M368 519.5h2M378 519.5h7M392 519.5h2M412 519.5h2M415 519.5h7M84 520.5h2M382 520.5h1M387 520.5h1M391 520.5h1M404 520.5h2M411 520.5h1M416 520.5h4M84 521.5h1M382 521.5h2M386 521.5h2M390 521.5h2M404 521.5h1M410 521.5h2M416 521.5h1M418 521.5h1M82 522.5h2M85 522.5h1M89 522.5h1M376 522.5h1M391 522.5h1M402 522.5h2M408 522.5h1M411 522.5h1M416 522.5h2M421 522.5h1M83 523.5h3M88 523.5h2M376 523.5h2M390 523.5h2M403 523.5h1M408 523.5h4M417 523.5h1M420 523.5h2M78 524.5h1M80 524.5h6M87 524.5h1M92 524.5h2M373 524.5h2M378 524.5h1M414 524.5h2M418 524.5h2M78 525.5h2M81 525.5h2M84 525.5h1M86 525.5h2M93 525.5h1M372 525.5h4M378 525.5h2M414 525.5h1M419 525.5h1M80 526.5h2M92 526.5h1M95 526.5h1M376 526.5h2M404 526.5h1M414 526.5h2M420 526.5h4M425 526.5h1M81 527.5h1M92 527.5h4M377 527.5h1M404 527.5h2M415 527.5h1M421 527.5h1M423 527.5h3M74 528.5h2M82 528.5h2M86 528.5h1M90 528.5h1M95 528.5h3M370 528.5h1M376 528.5h1M378 528.5h2M388 528.5h2M397 528.5h1M420 528.5h1M74 529.5h1M82 529.5h1M86 529.5h2M90 529.5h2M94 529.5h2M97 529.5h1M370 529.5h2M376 529.5h3M388 529.5h1M396 529.5h2M420 529.5h2M74 530.5h3M80 530.5h1M82 530.5h1M85 530.5h3M90 530.5h1M374 530.5h2M378 530.5h2M382 530.5h1M419 530.5h1M426 530.5h1M74 531.5h1M76 531.5h2M80 531.5h7M90 531.5h2M374 531.5h1M379 531.5h1M382 531.5h2M418 531.5h2M426 531.5h2M70 532.5h2M74 532.5h1M76 532.5h5M82 532.5h1M88 532.5h1M93 532.5h3M371 532.5h1M374 532.5h3M383 532.5h3M398 532.5h2M408 532.5h1M410 532.5h2M414 532.5h1M416 532.5h2M421 532.5h1M71 533.5h1M74 533.5h2M77 533.5h1M79 533.5h5M88 533.5h2M92 533.5h3M370 533.5h2M375 533.5h3M382 533.5h2M385 533.5h1M398 533.5h1M408 533.5h2M411 533.5h1M414 533.5h2M417 533.5h1M420 533.5h2M77 534.5h3M82 534.5h3M88 534.5h2M92 534.5h2M372 534.5h4M385 534.5h1M407 534.5h1M417 534.5h1M422 534.5h2M76 535.5h3M83 535.5h3M89 535.5h1M92 535.5h1M372 535.5h1M374 535.5h1M384 535.5h2M406 535.5h2M416 535.5h2M422 535.5h1M86 536.5h2M95 536.5h1M98 536.5h2M374 536.5h2M378 536.5h1M380 536.5h2M383 536.5h1M416 536.5h2M87 537.5h1M94 537.5h2M98 537.5h1M375 537.5h1M378 537.5h3M382 537.5h2M416 537.5h1M87 538.5h1M371 538.5h1M409 538.5h1M421 538.5h1M86 539.5h2M370 539.5h2M408 539.5h2M420 539.5h2M72 540.5h3M84 540.5h2M95 540.5h1M98 540.5h1M100 540.5h2M363 540.5h1M370 540.5h2M374 540.5h2M377 540.5h1M381 540.5h1M404 540.5h2M418 540.5h3M73 541.5h3M85 541.5h1M94 541.5h2M98 541.5h3M362 541.5h2M371 541.5h1M374 541.5h1M376 541.5h2M380 541.5h2M404 541.5h1M418 541.5h1M420 541.5h2M72 542.5h2M96 542.5h1M100 542.5h2M368 542.5h2M380 542.5h1M392 542.5h2M414 542.5h1M73 543.5h1M96 543.5h2M100 543.5h1M368 543.5h1M380 543.5h2M392 543.5h1M414 543.5h2M98 544.5h1M102 544.5h2M370 544.5h2M375 544.5h1M409 544.5h1M422 544.5h2M98 545.5h2M102 545.5h1M371 545.5h1M374 545.5h2M408 545.5h2M422 545.5h1M95 546.5h1M98 546.5h2M366 546.5h2M372 546.5h2M375 546.5h1M382 546.5h1M408 546.5h2M422 546.5h1M94 547.5h2M98 547.5h1M367 547.5h1M373 547.5h3M382 547.5h2M409 547.5h1M422 547.5h2M70 548.5h2M83 548.5h1M356 548.5h2M371 548.5h1M378 548.5h1M405 548.5h1M71 549.5h1M82 549.5h2M356 549.5h1M370 549.5h2M378 549.5h2M404 549.5h2M68 550.5h1M71 550.5h1M102 550.5h2M366 550.5h1M369 550.5h3M378 550.5h2M410 550.5h1M414 550.5h1M416 550.5h3M422 550.5h2M68 551.5h4M102 551.5h1M366 551.5h5M378 551.5h1M410 551.5h2M414 551.5h3M418 551.5h2M423 551.5h1M70 552.5h1M72 552.5h1M100 552.5h2M364 552.5h2M376 552.5h1M378 552.5h2M383 552.5h1M400 552.5h1M416 552.5h2M70 553.5h4M100 553.5h1M365 553.5h1M376 553.5h3M382 553.5h2M400 553.5h2M417 553.5h1M73 554.5h1M375 554.5h1M380 554.5h6M410 554.5h1M419 554.5h1M72 555.5h2M374 555.5h2M380 555.5h1M383 555.5h2M410 555.5h2M418 555.5h2M70 556.5h4M85 556.5h1M103 556.5h1M356 556.5h1M371 556.5h7M379 556.5h1M392 556.5h2M404 556.5h2M70 557.5h1M73 557.5h1M84 557.5h2M102 557.5h2M356 557.5h2M370 557.5h2M373 557.5h2M376 557.5h1M378 557.5h2M393 557.5h1M404 557.5h1M68 558.5h2M73 558.5h1M76 558.5h4M366 558.5h2M370 558.5h2M376 558.5h4M383 558.5h1M390 558.5h1M395 558.5h1M401 558.5h1M414 558.5h2M69 559.5h1M72 559.5h2M76 559.5h1M79 559.5h1M367 559.5h1M371 559.5h1M377 559.5h1M379 559.5h1M382 559.5h2M390 559.5h2M394 559.5h2M400 559.5h2M415 559.5h1M70 560.5h2M86 560.5h2M98 560.5h4M371 560.5h1M392 560.5h1M412 560.5h2M416 560.5h2M70 561.5h1M86 561.5h1M99 561.5h1M101 561.5h1M370 561.5h2M392 561.5h2M412 561.5h1M417 561.5h1M67 562.5h1M69 562.5h3M94 562.5h1M100 562.5h4M348 562.5h2M367 562.5h1M369 562.5h1M380 562.5h4M386 562.5h2M396 562.5h1M399 562.5h2M403 562.5h1M413 562.5h1M66 563.5h5M94 563.5h2M100 563.5h1M102 563.5h1M349 563.5h1M366 563.5h4M380 563.5h1M382 563.5h1M386 563.5h1M396 563.5h8M412 563.5h2M68 564.5h1M100 564.5h1M102 564.5h2M368 564.5h1M372 564.5h2M376 564.5h2M379 564.5h1M388 564.5h2M396 564.5h1M406 564.5h2M413 564.5h1M416 564.5h1M68 565.5h2M100 565.5h2M103 565.5h1M368 565.5h2M373 565.5h1M376 565.5h1M378 565.5h2M389 565.5h1M396 565.5h2M407 565.5h1M412 565.5h2M416 565.5h2M68 566.5h2M74 566.5h1M96 566.5h1M355 566.5h1M368 566.5h4M374 566.5h1M383 566.5h2M391 566.5h1M395 566.5h1M400 566.5h2M406 566.5h1M408 566.5h1M69 567.5h1M74 567.5h2M96 567.5h2M354 567.5h2M369 567.5h2M374 567.5h2M382 567.5h4M390 567.5h2M394 567.5h2M401 567.5h1M406 567.5h4M61 568.5h1M72 568.5h2M79 568.5h1M100 568.5h2M388 568.5h2M392 568.5h1M410 568.5h1M60 569.5h2M73 569.5h1M78 569.5h2M101 569.5h1M389 569.5h1M392 569.5h2M410 569.5h2M64 570.5h1M68 570.5h1M86 570.5h1M92 570.5h2M100 570.5h2M350 570.5h1M380 570.5h2M384 570.5h1M387 570.5h1M392 570.5h4M398 570.5h2M64 571.5h2M68 571.5h2M86 571.5h2M92 571.5h1M100 571.5h1M350 571.5h2M381 571.5h1M384 571.5h4M393 571.5h1M395 571.5h1M398 571.5h1M68 572.5h2M103 572.5h1M356 572.5h2M380 572.5h2M390 572.5h2M394 572.5h2M404 572.5h4M69 573.5h1M102 573.5h2M356 573.5h1M381 573.5h1M391 573.5h1M395 573.5h1M405 573.5h1M407 573.5h1M76 574.5h2M88 574.5h2M95 574.5h1M98 574.5h4M342 574.5h2M380 574.5h2M386 574.5h2M390 574.5h2M394 574.5h6M408 574.5h1M76 575.5h1M89 575.5h1M94 575.5h2M98 575.5h1M101 575.5h1M342 575.5h1M380 575.5h1M386 575.5h1M390 575.5h1M394 575.5h1M397 575.5h2M408 575.5h2M100 576.5h3M376 576.5h2M101 577.5h3M376 577.5h1M70 578.5h4M98 578.5h1M402 578.5h2M71 579.5h2M98 579.5h2M403 579.5h1M70 580.5h2M75 580.5h3M398 580.5h2M71 581.5h1M74 581.5h3M398 581.5h1M63 582.5h1M74 582.5h2M91 582.5h1M96 582.5h2M102 582.5h2M62 583.5h2M74 583.5h1M90 583.5h2M96 583.5h1M102 583.5h1M72 584.5h4M78 584.5h1M90 584.5h3M97 584.5h1M72 585.5h1M74 585.5h1M78 585.5h2M91 585.5h3M96 585.5h2M70 586.5h1M73 586.5h1M94 586.5h2M100 586.5h2M70 587.5h4M95 587.5h1M101 587.5h1M78 588.5h2M84 588.5h2M88 588.5h1M90 588.5h1M78 589.5h1M84 589.5h1M88 589.5h4M78 590.5h1M88 590.5h2M94 590.5h4M78 591.5h2M88 591.5h1M94 591.5h1M96 591.5h1M62 592.5h2M78 592.5h2M82 592.5h4M92 592.5h2M95 592.5h1M334 592.5h2M338 592.5h2M62 593.5h1M78 593.5h1M83 593.5h2M92 593.5h1M94 593.5h2M334 593.5h1M338 593.5h1M55 594.5h2M68 594.5h2M73 594.5h1M78 594.5h4M86 594.5h1M54 595.5h4M68 595.5h1M72 595.5h2M79 595.5h2M86 595.5h2M59 596.5h3M71 596.5h1M76 596.5h1M79 596.5h1M92 596.5h2M95 596.5h1M99 596.5h1M58 597.5h3M70 597.5h2M76 597.5h4M92 597.5h1M94 597.5h2M98 597.5h2M62 598.5h1M69 598.5h2M72 598.5h2M76 598.5h3M85 598.5h1M88 598.5h1M90 598.5h1M92 598.5h4M62 599.5h2M68 599.5h5M77 599.5h3M84 599.5h2M88 599.5h4M93 599.5h1M95 599.5h1M70 600.5h1M92 600.5h2M70 601.5h2M93 601.5h1M66 602.5h4M77 602.5h2M88 602.5h2M91 602.5h1M328 602.5h2M66 603.5h1M69 603.5h1M76 603.5h4M89 603.5h3M328 603.5h1M60 604.5h2M64 604.5h2M68 604.5h1M71 604.5h1M73 604.5h1M76 604.5h5M82 604.5h2M86 604.5h2M91 604.5h1M332 604.5h2M60 605.5h1M64 605.5h1M68 605.5h6M77 605.5h2M80 605.5h2M83 605.5h1M87 605.5h1M90 605.5h2M333 605.5h1M59 606.5h1M64 606.5h2M68 606.5h2M80 606.5h2M90 606.5h2M96 606.5h1M58 607.5h2M65 607.5h1M68 607.5h1M81 607.5h1M91 607.5h1M96 607.5h2M63 608.5h3M74 608.5h4M83 608.5h1M87 608.5h1M92 608.5h2M62 609.5h2M65 609.5h1M75 609.5h1M77 609.5h1M82 609.5h2M86 609.5h2M93 609.5h1M66 610.5h5M76 610.5h2M81 610.5h1M83 610.5h3M88 610.5h2M67 611.5h2M70 611.5h2M76 611.5h1M80 611.5h4M85 611.5h1M88 611.5h1M67 612.5h1M70 612.5h2M74 612.5h2M87 612.5h1M92 612.5h2M326 612.5h1M66 613.5h2M71 613.5h1M75 613.5h1M86 613.5h2M92 613.5h1M326 613.5h2M68 614.5h2M87 614.5h1M90 614.5h2M68 615.5h1M86 615.5h2M90 615.5h1M64 616.5h1M66 616.5h2M78 616.5h4M64 617.5h2M67 617.5h1M78 617.5h1M81 617.5h1M67 622.5h1M66 623.5h2"/>
<path stroke="#f70404" d="M348 60.5h4M348 61.5h4M352 62.5h2M356 62.5h2M352 63.5h2M356 63.5h2M346 64.5h4M352 64.5h6M346 65.5h4M352 65.5h6M342 66.5h2M348 66.5h10M362 66.5h2M368 66.5h2M342 67.5h2M348 67.5h10M362 67.5h2M368 67.5h2M344 68.5h2M348 68.5h8M358 68.5h4M368 68.5h2M344 69.5h2M348 69.5h8M358 69.5h4M368 69.5h2M342 70.5h24M368 70.5h2M342 71.5h24M368 71.5h2M342 72.5h6M350 72.5h16M342 73.5h6M350 73.5h16M338 74.5h8M348 74.5h14M364 74.5h2M370 74.5h2M338 75.5h8M348 75.5h14M364 75.5h2M370 75.5h2M334 76.5h4M342 76.5h24M368 76.5h2M334 77.5h4M342 77.5h24M368 77.5h2M336 78.5h34M374 78.5h2M336 79.5h34M374 79.5h2M338 80.5h2M342 80.5h24M338 81.5h2M342 81.5h24M336 82.5h14M352 82.5h14M368 82.5h4M336 83.5h14M352 83.5h14M368 83.5h4M338 84.5h2M342 84.5h28M374 84.5h2M378 84.5h2M386 84.5h2M338 85.5h2M342 85.5h28M374 85.5h2M378 85.5h2M386 85.5h2M336 86.5h2M342 86.5h22M366 86.5h4M372 86.5h2M378 86.5h2M336 87.5h2M342 87.5h22M366 87.5h4M372 87.5h2M378 87.5h2M340 88.5h6M348 88.5h16M366 88.5h4M340 89.5h6M348 89.5h16M366 89.5h4M340 90.5h8M350 90.5h10M364 90.5h2M340 91.5h8M350 91.5h10M364 91.5h2M338 92.5h4M344 92.5h22M372 92.5h2M338 93.5h4M344 93.5h22M372 93.5h2M342 94.5h6M350 94.5h10M362 94.5h4M368 94.5h2M342 95.5h6M350 95.5h10M362 95.5h4M368 95.5h2M346 96.5h2M350 96.5h4M356 96.5h2M360 96.5h2M366 96.5h2M346 97.5h2M350 97.5h4M356 97.5h2M360 97.5h2M366 97.5h2M342 98.5h2M346 98.5h16M342 99.5h2M346 99.5h16M342 100.5h2M346 100.5h2M352 100.5h6M362 100.5h2M342 101.5h2M346 101.5h2M352 101.5h6M362 101.5h2M350 102.5h4M356 102.5h2M350 103.5h4M356 103.5h2M346 104.5h8M346 105.5h8M354 106.5h2M354 107.5h2M350 108.5h2M350 109.5h2M346 112.5h2M346 113.5h2M356 116.5h2M362 116.5h2M356 117.5h2M362 117.5h2M342 120.5h2M354 120.5h2M342 121.5h2M354 121.5h2M350 124.5h2M350 125.5h2M344 126.5h2M352 126.5h2M358 126.5h2M344 127.5h2M352 127.5h2M358 127.5h2M350 128.5h4M350 129.5h4M350 132.5h2M364 132.5h2M350 133.5h2M364 133.5h2M348 134.5h2M348 135.5h2M344 136.5h2M344 137.5h2M156 140.5h2M352 140.5h2M156 141.5h2M352 141.5h2M154 142.5h2M154 143.5h2M150 144.5h2M154 144.5h4M162 144.5h2M150 145.5h2M154 145.5h4M162 145.5h2M140 146.5h2M148 146.5h6M156 146.5h2M160 146.5h2M164 146.5h2M168 146.5h2M140 147.5h2M148 147.5h6M156 147.5h2M160 147.5h2M164 147.5h2M168 147.5h2M146 148.5h2M154 148.5h14M146 149.5h2M154 149.5h14M146 150.5h16M166 150.5h4M146 151.5h16M166 151.5h4M144 152.5h24M144 153.5h24M138 154.5h4M146 154.5h22M138 155.5h4M146 155.5h22M136 156.5h34M136 157.5h34M126 158.5h2M130 158.5h2M134 158.5h34M170 158.5h2M126 159.5h2M130 159.5h2M134 159.5h34M170 159.5h2M126 160.5h2M130 160.5h34M166 160.5h4M126 161.5h2M130 161.5h34M166 161.5h4M124 162.5h2M130 162.5h36M124 163.5h2M130 163.5h36M124 164.5h38M170 164.5h2M124 165.5h38M170 165.5h2M120 166.5h2M128 166.5h32M120 167.5h2M128 167.5h32M126 168.5h26M154 168.5h6M126 169.5h26M154 169.5h6M120 170.5h36M158 170.5h2M120 171.5h36M158 171.5h2M122 172.5h28M122 173.5h28M122 174.5h24M148 174.5h4M122 175.5h24M148 175.5h4M118 176.5h2M128 176.5h2M132 176.5h4M142 176.5h4M118 177.5h2M128 177.5h2M132 177.5h4M142 177.5h4M134 178.5h2M134 179.5h2M88 292.5h6M88 293.5h6M82 294.5h4M88 294.5h10M82 295.5h4M88 295.5h10M84 296.5h2M88 296.5h2M92 296.5h6M84 297.5h2M88 297.5h2M92 297.5h6M72 298.5h8M84 298.5h12M100 298.5h2M72 299.5h8M84 299.5h12M100 299.5h2M70 300.5h2M78 300.5h2M82 300.5h10M96 300.5h4M382 300.5h2M70 301.5h2M78 301.5h2M82 301.5h10M96 301.5h4M382 301.5h2M78 302.5h2M82 302.5h4M88 302.5h14M366 302.5h2M370 302.5h2M374 302.5h2M78 303.5h2M82 303.5h4M88 303.5h14M366 303.5h2M370 303.5h2M374 303.5h2M68 304.5h2M72 304.5h4M78 304.5h2M86 304.5h2M90 304.5h12M362 304.5h2M366 304.5h4M374 304.5h4M390 304.5h2M68 305.5h2M72 305.5h4M78 305.5h2M86 305.5h2M90 305.5h12M362 305.5h2M366 305.5h4M374 305.5h4M390 305.5h2M70 306.5h2M76 306.5h2M80 306.5h2M86 306.5h2M90 306.5h8M362 306.5h2M366 306.5h4M372 306.5h8M382 306.5h2M70 307.5h2M76 307.5h2M80 307.5h2M86 307.5h2M90 307.5h8M362 307.5h2M366 307.5h4M372 307.5h8M382 307.5h2M74 308.5h2M78 308.5h12M94 308.5h2M354 308.5h2M358 308.5h6M366 308.5h10M380 308.5h4M386 308.5h6M74 309.5h2M78 309.5h12M94 309.5h2M354 309.5h2M358 309.5h6M366 309.5h10M380 309.5h4M386 309.5h6M66 310.5h2M70 310.5h2M78 310.5h4M84 310.5h10M98 310.5h4M346 310.5h2M356 310.5h2M360 310.5h22M384 310.5h2M388 310.5h4M66 311.5h2M70 311.5h2M78 311.5h4M84 311.5h10M98 311.5h4M346 311.5h2M356 311.5h2M360 311.5h22M384 311.5h2M388 311.5h4M72 312.5h20M98 312.5h2M356 312.5h2M360 312.5h2M364 312.5h24M392 312.5h2M72 313.5h20M98 313.5h2M356 313.5h2M360 313.5h2M364 313.5h24M392 313.5h2M68 314.5h8M78 314.5h2M82 314.5h16M348 314.5h16M366 314.5h14M382 314.5h10M68 315.5h8M78 315.5h2M82 315.5h16M348 315.5h16M366 315.5h14M382 315.5h10M66 316.5h2M72 316.5h20M96 316.5h2M352 316.5h2M356 316.5h38M66 317.5h2M72 317.5h20M96 317.5h2M352 317.5h2M356 317.5h38M68 318.5h14M84 318.5h10M350 318.5h28M380 318.5h4M386 318.5h2M390 318.5h2M68 319.5h14M84 319.5h10M350 319.5h28M380 319.5h4M386 319.5h2M390 319.5h2M66 320.5h30M100 320.5h2M342 320.5h2M356 320.5h10M368 320.5h24M66 321.5h30M100 321.5h2M342 321.5h2M356 321.5h10M368 321.5h24M68 322.5h12M82 322.5h4M90 322.5h4M350 322.5h40M68 323.5h12M82 323.5h4M90 323.5h4M350 323.5h40M64 324.5h2M72 324.5h22M352 324.5h4M360 324.5h28M64 325.5h2M72 325.5h22M352 325.5h4M360 325.5h28M66 326.5h24M92 326.5h4M346 326.5h4M354 326.5h32M388 326.5h4M66 327.5h24M92 327.5h4M346 327.5h4M354 327.5h32M388 327.5h4M62 328.5h2M68 328.5h22M94 328.5h2M348 328.5h4M356 328.5h32M62 329.5h2M68 329.5h22M94 329.5h2M348 329.5h4M356 329.5h32M64 330.5h2M68 330.5h16M86 330.5h2M92 330.5h4M346 330.5h2M350 330.5h2M354 330.5h28M384 330.5h4M64 331.5h2M68 331.5h16M86 331.5h2M92 331.5h4M346 331.5h2M350 331.5h2M354 331.5h28M384 331.5h4M66 332.5h4M72 332.5h14M96 332.5h2M352 332.5h6M360 332.5h2M364 332.5h16M384 332.5h2M66 333.5h4M72 333.5h14M96 333.5h2M352 333.5h6M360 333.5h2M364 333.5h16M384 333.5h2M62 334.5h2M66 334.5h10M78 334.5h4M84 334.5h4M356 334.5h12M370 334.5h10M382 334.5h2M62 335.5h2M66 335.5h10M78 335.5h4M84 335.5h4M356 335.5h12M370 335.5h10M382 335.5h2M58 336.5h2M64 336.5h8M74 336.5h8M86 336.5h4M356 336.5h2M360 336.5h8M370 336.5h4M378 336.5h2M384 336.5h4M58 337.5h2M64 337.5h8M74 337.5h8M86 337.5h4M356 337.5h2M360 337.5h8M370 337.5h4M378 337.5h2M384 337.5h4M60 338.5h4M68 338.5h16M86 338.5h2M356 338.5h2M360 338.5h2M364 338.5h8M374 338.5h2M378 338.5h2M60 339.5h4M68 339.5h16M86 339.5h2M356 339.5h2M360 339.5h2M364 339.5h8M374 339.5h2M378 339.5h2M66 340.5h22M90 340.5h2M368 340.5h2M372 340.5h2M376 340.5h4M66 341.5h22M90 341.5h2M368 341.5h2M372 341.5h2M376 341.5h4M60 342.5h2M64 342.5h4M70 342.5h4M76 342.5h2M82 342.5h2M90 342.5h2M376 342.5h2M60 343.5h2M64 343.5h4M70 343.5h4M76 343.5h2M82 343.5h2M90 343.5h2M376 343.5h2M62 344.5h4M68 344.5h16M86 344.5h2M366 344.5h2M62 345.5h4M68 345.5h16M86 345.5h2M366 345.5h2M68 346.5h2M74 346.5h6M88 346.5h2M68 347.5h2M74 347.5h6M88 347.5h2M60 348.5h2M66 348.5h2M70 348.5h8M82 348.5h2M86 348.5h4M60 349.5h2M66 349.5h2M70 349.5h8M82 349.5h2M86 349.5h4M64 350.5h2M70 350.5h2M74 350.5h4M80 350.5h4M64 351.5h2M70 351.5h2M74 351.5h4M80 351.5h4M64 352.5h2M68 352.5h2M72 352.5h4M64 353.5h2M68 353.5h2M72 353.5h4M68 354.5h6M76 354.5h2M86 354.5h2M68 355.5h6M76 355.5h2M86 355.5h2M68 356.5h2M72 356.5h2M82 356.5h2M68 357.5h2M72 357.5h2M82 357.5h2M70 358.5h2M70 359.5h2M76 360.5h2M76 361.5h2M78 366.5h2M78 367.5h2M80 370.5h2M80 371.5h2M400 496.5h2M400 497.5h2M400 502.5h2M406 502.5h2M400 503.5h2M406 503.5h2M398 504.5h2M398 505.5h2M386 506.5h2M396 506.5h2M410 506.5h2M386 507.5h2M396 507.5h2M410 507.5h2M388 508.5h8M388 509.5h8M390 510.5h2M394 510.5h2M398 510.5h8M412 510.5h2M416 510.5h2M390 511.5h2M394 511.5h2M398 511.5h8M412 511.5h2M416 511.5h2M386 512.5h4M394 512.5h12M410 512.5h4M386 513.5h4M394 513.5h12M410 513.5h4M378 514.5h8M392 514.5h4M398 514.5h4M404 514.5h8M414 514.5h2M378 515.5h8M392 515.5h4M398 515.5h4M404 515.5h8M414 515.5h2M384 516.5h2M392 516.5h10M404 516.5h2M410 516.5h4M384 517.5h2M392 517.5h10M404 517.5h2M410 517.5h4M386 518.5h6M394 518.5h18M386 519.5h6M394 519.5h18M378 520.5h4M384 520.5h2M388 520.5h2M392 520.5h12M406 520.5h2M412 520.5h4M378 521.5h4M384 521.5h2M388 521.5h2M392 521.5h12M406 521.5h2M412 521.5h4M380 522.5h10M392 522.5h8M404 522.5h4M412 522.5h4M380 523.5h10M392 523.5h8M404 523.5h4M412 523.5h4M90 524.5h2M376 524.5h2M380 524.5h34M416 524.5h2M90 525.5h2M376 525.5h2M380 525.5h34M416 525.5h2M76 526.5h2M84 526.5h6M378 526.5h26M406 526.5h8M416 526.5h4M76 527.5h2M84 527.5h6M378 527.5h26M406 527.5h8M416 527.5h4M84 528.5h2M88 528.5h2M92 528.5h2M374 528.5h2M380 528.5h8M390 528.5h6M398 528.5h18M84 529.5h2M88 529.5h2M92 529.5h2M374 529.5h2M380 529.5h8M390 529.5h6M398 529.5h18M88 530.5h2M92 530.5h2M372 530.5h2M376 530.5h2M380 530.5h2M384 530.5h30M416 530.5h2M420 530.5h2M88 531.5h2M92 531.5h2M372 531.5h2M376 531.5h2M380 531.5h2M384 531.5h30M416 531.5h2M420 531.5h2M86 532.5h2M90 532.5h2M366 532.5h2M372 532.5h2M378 532.5h4M386 532.5h12M400 532.5h8M412 532.5h2M418 532.5h2M86 533.5h2M90 533.5h2M366 533.5h2M372 533.5h2M378 533.5h4M386 533.5h12M400 533.5h8M412 533.5h2M418 533.5h2M74 534.5h2M80 534.5h2M86 534.5h2M90 534.5h2M370 534.5h2M376 534.5h8M386 534.5h20M408 534.5h8M418 534.5h2M74 535.5h2M80 535.5h2M86 535.5h2M90 535.5h2M370 535.5h2M376 535.5h8M386 535.5h20M408 535.5h8M418 535.5h2M74 536.5h12M88 536.5h6M96 536.5h2M370 536.5h4M376 536.5h2M384 536.5h32M418 536.5h2M74 537.5h12M88 537.5h6M96 537.5h2M370 537.5h4M376 537.5h2M384 537.5h32M418 537.5h2M72 538.5h14M88 538.5h8M372 538.5h2M378 538.5h30M410 538.5h8M72 539.5h14M88 539.5h8M372 539.5h2M378 539.5h30M410 539.5h8M76 540.5h8M86 540.5h8M96 540.5h2M378 540.5h2M382 540.5h22M406 540.5h10M422 540.5h2M76 541.5h8M86 541.5h8M96 541.5h2M378 541.5h2M382 541.5h22M406 541.5h10M422 541.5h2M70 542.5h2M74 542.5h22M376 542.5h4M382 542.5h10M394 542.5h20M416 542.5h2M70 543.5h2M74 543.5h22M376 543.5h4M382 543.5h10M394 543.5h20M416 543.5h2M72 544.5h26M372 544.5h2M376 544.5h32M410 544.5h10M72 545.5h26M372 545.5h2M376 545.5h32M410 545.5h10M72 546.5h22M96 546.5h2M370 546.5h2M376 546.5h6M384 546.5h24M410 546.5h8M72 547.5h22M96 547.5h2M370 547.5h2M376 547.5h6M384 547.5h24M410 547.5h8M72 548.5h10M84 548.5h16M368 548.5h2M372 548.5h6M380 548.5h2M384 548.5h20M406 548.5h8M416 548.5h2M72 549.5h10M84 549.5h16M368 549.5h2M372 549.5h6M380 549.5h2M384 549.5h20M406 549.5h8M416 549.5h2M72 550.5h26M100 550.5h2M374 550.5h2M380 550.5h30M412 550.5h2M72 551.5h26M100 551.5h2M374 551.5h2M380 551.5h30M412 551.5h2M74 552.5h24M102 552.5h2M366 552.5h4M374 552.5h2M380 552.5h2M384 552.5h16M402 552.5h6M410 552.5h6M74 553.5h24M102 553.5h2M366 553.5h4M374 553.5h2M380 553.5h2M384 553.5h16M402 553.5h6M410 553.5h6M68 554.5h2M74 554.5h24M366 554.5h2M378 554.5h2M386 554.5h24M416 554.5h2M68 555.5h2M74 555.5h24M366 555.5h2M378 555.5h2M386 555.5h24M416 555.5h2M74 556.5h10M86 556.5h4M92 556.5h10M366 556.5h2M380 556.5h10M394 556.5h10M406 556.5h10M74 557.5h10M86 557.5h4M92 557.5h10M366 557.5h2M380 557.5h10M394 557.5h10M406 557.5h10M70 558.5h2M74 558.5h2M80 558.5h22M368 558.5h2M374 558.5h2M380 558.5h2M384 558.5h6M392 558.5h2M396 558.5h4M402 558.5h10M70 559.5h2M74 559.5h2M80 559.5h22M368 559.5h2M374 559.5h2M380 559.5h2M384 559.5h6M392 559.5h2M396 559.5h4M402 559.5h10M68 560.5h2M72 560.5h14M88 560.5h10M378 560.5h14M394 560.5h14M414 560.5h2M68 561.5h2M72 561.5h14M88 561.5h10M378 561.5h14M394 561.5h14M414 561.5h2M72 562.5h22M96 562.5h4M370 562.5h2M384 562.5h2M388 562.5h8M404 562.5h2M408 562.5h4M72 563.5h22M96 563.5h4M370 563.5h2M384 563.5h2M388 563.5h8M404 563.5h2M408 563.5h4M72 564.5h28M382 564.5h6M392 564.5h4M398 564.5h8M410 564.5h2M72 565.5h28M382 565.5h6M392 565.5h4M398 565.5h8M410 565.5h2M70 566.5h4M76 566.5h20M98 566.5h2M380 566.5h2M386 566.5h4M392 566.5h2M396 566.5h4M404 566.5h2M70 567.5h4M76 567.5h20M98 567.5h2M380 567.5h2M386 567.5h4M392 567.5h2M396 567.5h4M404 567.5h2M70 568.5h2M74 568.5h4M80 568.5h20M386 568.5h2M390 568.5h2M396 568.5h12M70 569.5h2M74 569.5h4M80 569.5h20M386 569.5h2M390 569.5h2M396 569.5h12M72 570.5h14M88 570.5h4M94 570.5h6M102 570.5h2M388 570.5h2M400 570.5h2M406 570.5h2M72 571.5h14M88 571.5h4M94 571.5h6M102 571.5h2M388 571.5h2M400 571.5h2M406 571.5h2M72 572.5h28M386 572.5h2M396 572.5h4M72 573.5h28M386 573.5h2M396 573.5h4M70 574.5h6M78 574.5h10M90 574.5h4M96 574.5h2M382 574.5h2M404 574.5h2M410 574.5h2M70 575.5h6M78 575.5h10M90 575.5h4M96 575.5h2M382 575.5h2M404 575.5h2M410 575.5h2M70 576.5h30M70 577.5h30M76 578.5h22M76 579.5h22M72 580.5h2M78 580.5h20M100 580.5h2M382 580.5h2M72 581.5h2M78 581.5h20M100 581.5h2M382 581.5h2M72 582.5h2M76 582.5h14M92 582.5h4M98 582.5h2M344 582.5h2M72 583.5h2M76 583.5h14M92 583.5h4M98 583.5h2M344 583.5h2M76 584.5h2M80 584.5h10M94 584.5h2M76 585.5h2M80 585.5h10M94 585.5h2M74 586.5h20M74 587.5h20M70 588.5h2M76 588.5h2M80 588.5h4M86 588.5h2M92 588.5h4M70 589.5h2M76 589.5h2M80 589.5h4M86 589.5h2M92 589.5h4M76 590.5h2M80 590.5h8M90 590.5h2M76 591.5h2M80 591.5h8M90 591.5h2M76 592.5h2M80 592.5h2M86 592.5h6M98 592.5h2M76 593.5h2M80 593.5h2M86 593.5h6M98 593.5h2M74 594.5h4M82 594.5h4M88 594.5h4M94 594.5h2M74 595.5h4M82 595.5h4M88 595.5h4M94 595.5h2M80 596.5h12M80 597.5h12M64 598.5h2M74 598.5h2M80 598.5h4M86 598.5h2M64 599.5h2M74 599.5h2M80 599.5h4M86 599.5h2M72 600.5h6M80 600.5h2M84 600.5h2M88 600.5h2M72 601.5h6M80 601.5h2M84 601.5h2M88 601.5h2M70 602.5h6M80 602.5h8M92 602.5h2M70 603.5h6M80 603.5h8M92 603.5h2M74 604.5h2M84 604.5h2M88 604.5h2M74 605.5h2M84 605.5h2M88 605.5h2M72 606.5h8M84 606.5h4M72 607.5h8M84 607.5h4M70 608.5h2M78 608.5h2M70 609.5h2M78 609.5h2M72 610.5h2M72 611.5h2M72 612.5h2M76 612.5h2M72 613.5h2M76 613.5h2M80 614.5h2M80 615.5h2"/>
<path stroke="#3a3a3a" d="M162 27.5h1M162 28.5h1M170 52.5h1M165 53.5h1M171 53.5h1M164 54.5h1M172 54.5h1M170 57.5h1M182 57.5h1M170 58.5h1M182 58.5h2M165 66.5h1M154 67.5h1M165 67.5h1M153 68.5h1M164 69.5h2M176 80.5h1M175 81.5h1M166 82.5h2M182 86.5h1M183 87.5h1M144 91.5h1M161 91.5h2M168 91.5h2M145 92.5h1M161 92.5h1M143 93.5h2M165 94.5h2M152 96.5h1M158 96.5h1M151 97.5h1M158 97.5h1M152 101.5h1M152 102.5h2M162 103.5h1M161 104.5h1M165 106.5h1M163 107.5h2M164 108.5h1M165 109.5h1M161 112.5h1M174 112.5h1M161 113.5h1M174 113.5h1M148 115.5h1M148 116.5h1M144 117.5h2M153 117.5h1M146 118.5h2M153 118.5h1M162 118.5h1M145 119.5h1M152 119.5h1M161 119.5h2M145 120.5h1M151 120.5h2M157 123.5h1M165 123.5h1M146 124.5h1M157 124.5h1M164 124.5h1M147 125.5h2M154 125.5h1M165 125.5h1M147 126.5h1M152 126.5h2M154 127.5h1M146 129.5h2M151 129.5h1M150 130.5h1M152 130.5h2M155 130.5h1M163 130.5h2M154 131.5h1M159 131.5h1M142 132.5h1M156 132.5h2M160 132.5h1M141 133.5h1M152 133.5h1M162 133.5h2M151 134.5h1M155 134.5h5M148 135.5h2M152 135.5h1M155 135.5h1M158 135.5h1M160 135.5h1M148 136.5h2M151 136.5h1M153 136.5h1M155 136.5h1M160 136.5h1M166 136.5h2M196 145.5h1M175 146.5h2M197 146.5h1M177 147.5h1M177 148.5h1M178 149.5h1M186 149.5h1M176 150.5h2M187 150.5h1M187 155.5h1M177 156.5h2M187 156.5h1M178 158.5h2M78 166.5h1M84 166.5h1M95 166.5h1M77 167.5h1M84 167.5h1M91 167.5h1M95 167.5h1M84 168.5h1M90 168.5h1M102 168.5h1M85 169.5h1M94 169.5h2M102 169.5h1M95 170.5h1M99 170.5h1M101 170.5h1M75 171.5h1M86 171.5h1M100 171.5h1M76 172.5h1M85 172.5h1M85 173.5h1M106 174.5h1M84 175.5h2M100 175.5h2M106 175.5h1M100 176.5h1M110 177.5h1M110 178.5h1M112 179.5h2M111 180.5h2M119 180.5h6M127 180.5h2M131 180.5h1M133 180.5h2M102 181.5h1M113 181.5h1M117 181.5h2M120 181.5h2M123 181.5h9M133 181.5h2M141 181.5h2M146 181.5h1M103 182.5h1M118 182.5h1M123 182.5h4M129 182.5h2M145 182.5h1"/>
<path stroke="#8fc39a" d="M172 169.5h1M184 170.5h1M170 171.5h1M180 172.5h1M174 173.5h1M176 173.5h1M179 173.5h1M184 174.5h1M191 174.5h1M171 175.5h1M174 175.5h1M178 175.5h1M180 175.5h1M185 175.5h1M190 175.5h1M172 176.5h1M174 176.5h1M177 176.5h5M185 176.5h2M179 177.5h1M181 177.5h2M186 177.5h2M169 178.5h1M172 178.5h1M180 178.5h1M182 178.5h3M199 178.5h1M170 179.5h1M176 179.5h1M178 179.5h1M181 179.5h1M184 179.5h1M186 179.5h1M172 180.5h1M179 180.5h1M182 180.5h1M184 180.5h1M189 180.5h1M170 181.5h1M177 181.5h1M180 181.5h2M190 181.5h1"/>
<path stroke="#b4beb4" d="M144 586.5h1M164 586.5h1M151 587.5h1M157 588.5h1M146 589.5h1M153 589.5h1M151 590.5h1M134 591.5h1M152 591.5h1M135 593.5h1M148 593.5h1M154 593.5h1M169 594.5h1M180 594.5h1M108 595.5h1M123 595.5h1M134 595.5h1M140 595.5h1M155 595.5h1M163 595.5h1M176 595.5h1M132 596.5h1M151 596.5h1M154 596.5h1M121 599.5h1M126 599.5h1M138 599.5h1M145 599.5h1M153 599.5h1M167 599.5h1M170 599.5h1M120 600.5h1M147 600.5h1M151 600.5h1M146 601.5h1M149 601.5h2M143 602.5h1M145 602.5h1M161 602.5h1M143 603.5h1M146 603.5h1M160 603.5h1M134 604.5h1M153 604.5h1M161 604.5h1M176 604.5h1M139 605.5h1M145 605.5h1M149 605.5h1M167 605.5h1M132 606.5h1M134 606.5h1M162 606.5h1M165 606.5h1M170 606.5h1M134 607.5h1M153 607.5h1M159 607.5h1M148 608.5h1M159 609.5h1M161 609.5h1M163 609.5h1M137 610.5h1M152 610.5h1M148 611.5h1M162 611.5h1M135 613.5h1M148 613.5h2M149 614.5h1M159 614.5h1M165 614.5h1M134 615.5h1M148 616.5h1M179 616.5h1M122 617.5h1M141 617.5h1M159 617.5h1M161 617.5h1M175 618.5h1M143 619.5h1M146 620.5h1M164 620.5h1M169 620.5h1M187 620.5h1"/></g>
<g fill="none"><path stroke="#1c1c1c" stroke-width="1" d="M310.5 180.6L310.5 185.4M325.5 180.6L325.5 183.4M334.5 180.6L334.5 183.4M340.5 180.6L340.5 183.4M345.5 180.6L345.5 183.4M349.5 180.6L349.5 183.4M352.5 180.6L352.5 183.4M355.5 180.6L355.5 183.4M357.5 180.6L357.5 183.4M360.5 180.6L360.5 185.4M375.5 180.6L375.5 183.4M383.5 180.6L383.5 183.4M389.5 180.6L389.5 183.4M394.5 180.6L394.5 183.4M398.5 180.6L398.5 183.4M401.5 180.6L401.5 183.4M404.5 180.6L404.5 183.4M407.5 180.6L407.5 183.4M409.5 180.6L409.5 185.4M424.5 180.6L424.5 183.4M433.5 180.6L433.5 183.4M439.5 180.6L439.5 183.4M444.5 180.6L444.5 183.4M447.5 180.6L447.5 183.4M451.5 180.6L451.5 183.4M454.5 180.6L454.5 183.4M456.5 180.6L456.5 183.4M458.5 180.6L458.5 185.4M473.5 180.6L473.5 183.4M482.5 180.6L482.5 183.4M488.5 180.6L488.5 183.4M493.5 180.6L493.5 183.4M497.5 180.6L497.5 183.4M500.5 180.6L500.5 183.4M503.5 180.6L503.5 183.4M506.5 180.6L506.5 183.4M508.5 180.6L508.5 185.4M304.9 179.5L309.9 179.5M307.1 167.5L309.9 167.5M307.1 160.5L309.9 160.5M307.1 154.5L309.9 154.5M307.1 150.5L309.9 150.5M307.1 147.5L309.9 147.5M307.1 144.5L309.9 144.5M307.1 142.5L309.9 142.5M307.1 140.5L309.9 140.5M304.9 138.5L309.9 138.5M307.1 125.5L309.9 125.5M307.1 118.5L309.9 118.5M307.1 113.5L309.9 113.5M307.1 109.5L309.9 109.5M307.1 106.5L309.9 106.5M307.1 103.5L309.9 103.5M307.1 100.5L309.9 100.5M307.1 98.5L309.9 98.5M304.9 96.5L309.9 96.5M307.1 84.5L309.9 84.5M307.1 77.5L309.9 77.5M307.1 71.5L309.9 71.5M307.1 67.5L309.9 67.5M307.1 64.5L309.9 64.5M307.1 61.5L309.9 61.5M307.1 59.5L309.9 59.5M307.1 57.5L309.9 57.5M304.9 55.5L309.9 55.5M307.1 42.5L309.9 42.5M307.1 35.5L309.9 35.5M307.1 30.5L309.9 30.5M307.1 26.5L309.9 26.5M307.1 23.5L309.9 23.5M307.1 20.5L309.9 20.5M307.1 17.5L309.9 17.5M307.1 15.5L309.9 15.5M304.9 13.5L309.9 13.5"/>
<rect x="309.9" y="12.9" width="199.6" height="167.7" fill="none" stroke="#1c1c1c" stroke-width="1.5"/>
<path stroke="#1c1c1c" stroke-width="1.4" d="M377.7 12.9V180.6M309.9 131.1H509.5"/>
<path stroke="#1c1c1c" stroke-width="1" d="M42.5 405.5L42.5 410.3M57.5 405.5L57.5 408.3M66.5 405.5L66.5 408.3M72.5 405.5L72.5 408.3M77.5 405.5L77.5 408.3M80.5 405.5L80.5 408.3M84.5 405.5L84.5 408.3M87.5 405.5L87.5 408.3M89.5 405.5L89.5 408.3M91.5 405.5L91.5 410.3M106.5 405.5L106.5 408.3M115.5 405.5L115.5 408.3M121.5 405.5L121.5 408.3M126.5 405.5L126.5 408.3M130.5 405.5L130.5 408.3M133.5 405.5L133.5 408.3M136.5 405.5L136.5 408.3M138.5 405.5L138.5 408.3M141.5 405.5L141.5 410.3M156.5 405.5L156.5 408.3M164.5 405.5L164.5 408.3M170.5 405.5L170.5 408.3M175.5 405.5L175.5 408.3M179.5 405.5L179.5 408.3M182.5 405.5L182.5 408.3M185.5 405.5L185.5 408.3M188.5 405.5L188.5 408.3M190.5 405.5L190.5 410.3M205.5 405.5L205.5 408.3M214.5 405.5L214.5 408.3M220.5 405.5L220.5 408.3M224.5 405.5L224.5 408.3M228.5 405.5L228.5 408.3M232.5 405.5L232.5 408.3M235.5 405.5L235.5 408.3M237.5 405.5L237.5 408.3M239.5 405.5L239.5 410.3M36.7 404.5L41.7 404.5M38.9 392.5L41.7 392.5M38.9 385.5L41.7 385.5M38.9 379.5L41.7 379.5M38.9 375.5L41.7 375.5M38.9 372.5L41.7 372.5M38.9 369.5L41.7 369.5M38.9 367.5L41.7 367.5M38.9 365.5L41.7 365.5M36.7 363.5L41.7 363.5M38.9 350.5L41.7 350.5M38.9 343.5L41.7 343.5M38.9 338.5L41.7 338.5M38.9 334.5L41.7 334.5M38.9 331.5L41.7 331.5M38.9 328.5L41.7 328.5M38.9 325.5L41.7 325.5M38.9 323.5L41.7 323.5M36.7 321.5L41.7 321.5M38.9 309.5L41.7 309.5M38.9 302.5L41.7 302.5M38.9 296.5L41.7 296.5M38.9 292.5L41.7 292.5M38.9 289.5L41.7 289.5M38.9 286.5L41.7 286.5M38.9 284.5L41.7 284.5M38.9 282.5L41.7 282.5M36.7 280.5L41.7 280.5M38.9 267.5L41.7 267.5M38.9 260.5L41.7 260.5M38.9 255.5L41.7 255.5M38.9 251.5L41.7 251.5M38.9 248.5L41.7 248.5M38.9 245.5L41.7 245.5M38.9 242.5L41.7 242.5M38.9 240.5L41.7 240.5M36.7 238.5L41.7 238.5"/>
<rect x="41.7" y="237.9" width="199.3" height="167.6" fill="none" stroke="#1c1c1c" stroke-width="1.5"/>
<path stroke="#1c1c1c" stroke-width="1.4" d="M104.8 237.9V405.5M41.7 355.6H241"/>
<path stroke="#1c1c1c" stroke-width="1" d="M310.5 405.5L310.5 410.3M325.5 405.5L325.5 408.3M334.5 405.5L334.5 408.3M340.5 405.5L340.5 408.3M345.5 405.5L345.5 408.3M349.5 405.5L349.5 408.3M352.5 405.5L352.5 408.3M355.5 405.5L355.5 408.3M357.5 405.5L357.5 408.3M360.5 405.5L360.5 410.3M375.5 405.5L375.5 408.3M383.5 405.5L383.5 408.3M389.5 405.5L389.5 408.3M394.5 405.5L394.5 408.3M398.5 405.5L398.5 408.3M401.5 405.5L401.5 408.3M404.5 405.5L404.5 408.3M407.5 405.5L407.5 408.3M409.5 405.5L409.5 410.3M424.5 405.5L424.5 408.3M432.5 405.5L432.5 408.3M439.5 405.5L439.5 408.3M443.5 405.5L443.5 408.3M447.5 405.5L447.5 408.3M451.5 405.5L451.5 408.3M453.5 405.5L453.5 408.3M456.5 405.5L456.5 408.3M458.5 405.5L458.5 410.3M473.5 405.5L473.5 408.3M482.5 405.5L482.5 408.3M488.5 405.5L488.5 408.3M493.5 405.5L493.5 408.3M497.5 405.5L497.5 408.3M500.5 405.5L500.5 408.3M503.5 405.5L503.5 408.3M505.5 405.5L505.5 408.3M508.5 405.5L508.5 410.3M305 404.5L310 404.5M307.2 392.5L310 392.5M307.2 385.5L310 385.5M307.2 379.5L310 379.5M307.2 375.5L310 375.5M307.2 372.5L310 372.5M307.2 369.5L310 369.5M307.2 367.5L310 367.5M307.2 365.5L310 365.5M305 363.5L310 363.5M307.2 350.5L310 350.5M307.2 343.5L310 343.5M307.2 338.5L310 338.5M307.2 334.5L310 334.5M307.2 331.5L310 331.5M307.2 328.5L310 328.5M307.2 325.5L310 325.5M307.2 323.5L310 323.5M305 321.5L310 321.5M307.2 309.5L310 309.5M307.2 302.5L310 302.5M307.2 297.5L310 297.5M307.2 292.5L310 292.5M307.2 289.5L310 289.5M307.2 286.5L310 286.5M307.2 284.5L310 284.5M307.2 282.5L310 282.5M305 280.5L310 280.5M307.2 268.5L310 268.5M307.2 260.5L310 260.5M307.2 255.5L310 255.5M307.2 251.5L310 251.5M307.2 248.5L310 248.5M307.2 245.5L310 245.5M307.2 243.5L310 243.5M307.2 240.5L310 240.5M305 239.5L310 239.5"/>
<rect x="310" y="238.1" width="199.2" height="167.4" fill="none" stroke="#1c1c1c" stroke-width="1.5"/>
<path stroke="#1c1c1c" stroke-width="1.4" d="M365.8 238.1V405.5M310 355.6H509.2"/>
<path stroke="#1c1c1c" stroke-width="1" d="M42.5 625.6L42.5 630.4M57.5 625.6L57.5 628.4M66.5 625.6L66.5 628.4M72.5 625.6L72.5 628.4M77.5 625.6L77.5 628.4M81.5 625.6L81.5 628.4M84.5 625.6L84.5 628.4M87.5 625.6L87.5 628.4M89.5 625.6L89.5 628.4M92.5 625.6L92.5 630.4M106.5 625.6L106.5 628.4M115.5 625.6L115.5 628.4M121.5 625.6L121.5 628.4M126.5 625.6L126.5 628.4M130.5 625.6L130.5 628.4M133.5 625.6L133.5 628.4M136.5 625.6L136.5 628.4M139.5 625.6L139.5 628.4M141.5 625.6L141.5 630.4M156.5 625.6L156.5 628.4M164.5 625.6L164.5 628.4M170.5 625.6L170.5 628.4M175.5 625.6L175.5 628.4M179.5 625.6L179.5 628.4M182.5 625.6L182.5 628.4M185.5 625.6L185.5 628.4M188.5 625.6L188.5 628.4M190.5 625.6L190.5 630.4M205.5 625.6L205.5 628.4M214.5 625.6L214.5 628.4M220.5 625.6L220.5 628.4M224.5 625.6L224.5 628.4M228.5 625.6L228.5 628.4M232.5 625.6L232.5 628.4M235.5 625.6L235.5 628.4M237.5 625.6L237.5 628.4M239.5 625.6L239.5 630.4M36.9 624.5L41.9 624.5M39.1 612.5L41.9 612.5M39.1 605.5L41.9 605.5M39.1 599.5L41.9 599.5M39.1 595.5L41.9 595.5M39.1 592.5L41.9 592.5M39.1 589.5L41.9 589.5M39.1 587.5L41.9 587.5M39.1 585.5L41.9 585.5M36.9 583.5L41.9 583.5M39.1 571.5L41.9 571.5M39.1 563.5L41.9 563.5M39.1 558.5L41.9 558.5M39.1 554.5L41.9 554.5M39.1 551.5L41.9 551.5M39.1 548.5L41.9 548.5M39.1 546.5L41.9 546.5M39.1 543.5L41.9 543.5M36.9 542.5L41.9 542.5M39.1 529.5L41.9 529.5M39.1 522.5L41.9 522.5M39.1 517.5L41.9 517.5M39.1 513.5L41.9 513.5M39.1 509.5L41.9 509.5M39.1 507.5L41.9 507.5M39.1 504.5L41.9 504.5M39.1 502.5L41.9 502.5M36.9 500.5L41.9 500.5M39.1 488.5L41.9 488.5M39.1 480.5L41.9 480.5M39.1 475.5L41.9 475.5M39.1 471.5L41.9 471.5M39.1 468.5L41.9 468.5M39.1 465.5L41.9 465.5M39.1 463.5L41.9 463.5M39.1 461.5L41.9 461.5M36.9 459.5L41.9 459.5"/>
<rect x="41.9" y="458.2" width="199.1" height="167.4" fill="none" stroke="#1c1c1c" stroke-width="1.5"/>
<path stroke="#1c1c1c" stroke-width="1.4" d="M109.3 458.2V625.6M41.9 576.2H241"/>
<path stroke="#1c1c1c" stroke-width="1" d="M310.5 625.5L310.5 630.3M325.5 625.5L325.5 628.3M334.5 625.5L334.5 628.3M340.5 625.5L340.5 628.3M345.5 625.5L345.5 628.3M349.5 625.5L349.5 628.3M352.5 625.5L352.5 628.3M355.5 625.5L355.5 628.3M357.5 625.5L357.5 628.3M360.5 625.5L360.5 630.3M375.5 625.5L375.5 628.3M383.5 625.5L383.5 628.3M389.5 625.5L389.5 628.3M394.5 625.5L394.5 628.3M398.5 625.5L398.5 628.3M401.5 625.5L401.5 628.3M404.5 625.5L404.5 628.3M407.5 625.5L407.5 628.3M409.5 625.5L409.5 630.3M424.5 625.5L424.5 628.3M432.5 625.5L432.5 628.3M439.5 625.5L439.5 628.3M443.5 625.5L443.5 628.3M447.5 625.5L447.5 628.3M451.5 625.5L451.5 628.3M453.5 625.5L453.5 628.3M456.5 625.5L456.5 628.3M458.5 625.5L458.5 630.3M473.5 625.5L473.5 628.3M482.5 625.5L482.5 628.3M488.5 625.5L488.5 628.3M493.5 625.5L493.5 628.3M497.5 625.5L497.5 628.3M500.5 625.5L500.5 628.3M503.5 625.5L503.5 628.3M505.5 625.5L505.5 628.3M508.5 625.5L508.5 630.3M305 624.5L310 624.5M307.2 612.5L310 612.5M307.2 605.5L310 605.5M307.2 599.5L310 599.5M307.2 595.5L310 595.5M307.2 592.5L310 592.5M307.2 589.5L310 589.5M307.2 587.5L310 587.5M307.2 585.5L310 585.5M305 583.5L310 583.5M307.2 570.5L310 570.5M307.2 563.5L310 563.5M307.2 558.5L310 558.5M307.2 554.5L310 554.5M307.2 551.5L310 551.5M307.2 548.5L310 548.5M307.2 546.5L310 546.5M307.2 543.5L310 543.5M305 542.5L310 542.5M307.2 529.5L310 529.5M307.2 522.5L310 522.5M307.2 517.5L310 517.5M307.2 513.5L310 513.5M307.2 509.5L310 509.5M307.2 507.5L310 507.5M307.2 504.5L310 504.5M307.2 502.5L310 502.5M305 500.5L310 500.5M307.2 488.5L310 488.5M307.2 480.5L310 480.5M307.2 475.5L310 475.5M307.2 471.5L310 471.5M307.2 468.5L310 468.5M307.2 465.5L310 465.5M307.2 463.5L310 463.5M307.2 461.5L310 461.5M305 459.5L310 459.5"/>
<rect x="310" y="458.2" width="199.2" height="167.3" fill="none" stroke="#1c1c1c" stroke-width="1.5"/>
<path stroke="#1c1c1c" stroke-width="1.4" d="M377.7 458.2V625.5M310 576.3H509.2"/>
<path stroke="#1c1c1c" stroke-width="1" d="M39.5 184.2L39.5 189.2M54.5 184.2L54.5 187.2M63.5 184.2L63.5 187.2M69.5 184.2L69.5 187.2M74.5 184.2L74.5 187.2M78.5 184.2L78.5 187.2M81.5 184.2L81.5 187.2M84.5 184.2L84.5 187.2M87.5 184.2L87.5 187.2M89.5 184.2L89.5 189.2M104.5 184.2L104.5 187.2M113.5 184.2L113.5 187.2M119.5 184.2L119.5 187.2M124.5 184.2L124.5 187.2M128.5 184.2L128.5 187.2M131.5 184.2L131.5 187.2M134.5 184.2L134.5 187.2M137.5 184.2L137.5 187.2M139.5 184.2L139.5 189.2M154.5 184.2L154.5 187.2M163.5 184.2L163.5 187.2M169.5 184.2L169.5 187.2M174.5 184.2L174.5 187.2M178.5 184.2L178.5 187.2M181.5 184.2L181.5 187.2M184.5 184.2L184.5 187.2M187.5 184.2L187.5 187.2M189.5 184.2L189.5 189.2M204.5 184.2L204.5 187.2M213.5 184.2L213.5 187.2M219.5 184.2L219.5 187.2M224.5 184.2L224.5 187.2M228.5 184.2L228.5 187.2M232.5 184.2L232.5 187.2M234.5 184.2L234.5 187.2M237.5 184.2L237.5 187.2M239.5 184.2L239.5 189.2M34.3 184.5L39.3 184.5M36.3 177.5L39.3 177.5M36.3 170.5L39.3 170.5M36.3 164.5L39.3 164.5M36.3 157.5L39.3 157.5M34.3 151.5L39.3 151.5M36.3 144.5L39.3 144.5M36.3 137.5L39.3 137.5M36.3 131.5L39.3 131.5M36.3 124.5L39.3 124.5M34.3 117.5L39.3 117.5M36.3 111.5L39.3 111.5M36.3 104.5L39.3 104.5M36.3 97.5L39.3 97.5M36.3 91.5L39.3 91.5M34.3 84.5L39.3 84.5M36.3 77.5L39.3 77.5M36.3 71.5L39.3 71.5M36.3 64.5L39.3 64.5M36.3 58.5L39.3 58.5M34.3 51.5L39.3 51.5M36.3 44.5L39.3 44.5M36.3 38.5L39.3 38.5M36.3 31.5L39.3 31.5M36.3 24.5L39.3 24.5M34.3 18.5L39.3 18.5"/>
<rect x="39.3" y="13.2" width="201.7" height="171" fill="none" stroke="#1c1c1c" stroke-width="1.5"/>
<path fill="none" stroke="#1c1c1c" stroke-width="1.3" d="M135.4 136.9L170.2 136.7L172.6 139.5L175.6 150L176.6 160.5L173.6 168.5L166 176L161.5 180.4L116.2 180.6L109.7 174L105.4 167.8L107.3 162.3Z"/>
<ellipse cx="183.3" cy="176.2" rx="20" ry="8.8" fill="none" stroke="#1c1c1c" stroke-width="1.3"/></g>
<g transform="translate(301.1 179.9) rotate(-90)"><text x="-9.6" y="0" font-size="15" font-weight="bold" textLength="11.2" lengthAdjust="spacingAndGlyphs">10</text><text x="3.3" y="-5.6" font-size="13.5" stroke="#000" stroke-width="0.35" textLength="5.6" lengthAdjust="spacingAndGlyphs">0</text></g>
<text x="302.3" y="201.4" font-size="15" font-weight="bold" textLength="11.2" lengthAdjust="spacingAndGlyphs">10</text><text x="314" y="195.8" font-size="13.5" stroke="#000" stroke-width="0.35" textLength="5.6" lengthAdjust="spacingAndGlyphs">0</text>
<g transform="translate(301.1 138.4) rotate(-90)"><text x="-9.6" y="0" font-size="15" font-weight="bold" textLength="11.2" lengthAdjust="spacingAndGlyphs">10</text><text x="3.3" y="-5.6" font-size="13.5" stroke="#000" stroke-width="0.35" textLength="5.6" lengthAdjust="spacingAndGlyphs">1</text></g>
<text x="351.67" y="201.4" font-size="15" font-weight="bold" textLength="11.2" lengthAdjust="spacingAndGlyphs">10</text><text x="363.37" y="195.8" font-size="13.5" stroke="#000" stroke-width="0.35" textLength="5.6" lengthAdjust="spacingAndGlyphs">1</text>
<g transform="translate(301.1 96.9) rotate(-90)"><text x="-9.6" y="0" font-size="15" font-weight="bold" textLength="11.2" lengthAdjust="spacingAndGlyphs">10</text><text x="3.3" y="-5.6" font-size="13.5" stroke="#000" stroke-width="0.35" textLength="5.6" lengthAdjust="spacingAndGlyphs">2</text></g>
<text x="401.05" y="201.4" font-size="15" font-weight="bold" textLength="11.2" lengthAdjust="spacingAndGlyphs">10</text><text x="412.75" y="195.8" font-size="13.5" stroke="#000" stroke-width="0.35" textLength="5.6" lengthAdjust="spacingAndGlyphs">2</text>
<g transform="translate(301.1 55.4) rotate(-90)"><text x="-9.6" y="0" font-size="15" font-weight="bold" textLength="11.2" lengthAdjust="spacingAndGlyphs">10</text><text x="3.3" y="-5.6" font-size="13.5" stroke="#000" stroke-width="0.35" textLength="5.6" lengthAdjust="spacingAndGlyphs">3</text></g>
<text x="450.43" y="201.4" font-size="15" font-weight="bold" textLength="11.2" lengthAdjust="spacingAndGlyphs">10</text><text x="462.12" y="195.8" font-size="13.5" stroke="#000" stroke-width="0.35" textLength="5.6" lengthAdjust="spacingAndGlyphs">3</text>
<g transform="translate(301.1 13.9) rotate(-90)"><text x="-9.6" y="0" font-size="15" font-weight="bold" textLength="11.2" lengthAdjust="spacingAndGlyphs">10</text><text x="3.3" y="-5.6" font-size="13.5" stroke="#000" stroke-width="0.35" textLength="5.6" lengthAdjust="spacingAndGlyphs">4</text></g>
<text x="499.8" y="201.4" font-size="15" font-weight="bold" textLength="11.2" lengthAdjust="spacingAndGlyphs">10</text><text x="511.5" y="195.8" font-size="13.5" stroke="#000" stroke-width="0.35" textLength="5.6" lengthAdjust="spacingAndGlyphs">4</text>
<text transform="translate(282.8 97.55) rotate(-90)" x="0" y="0" text-anchor="middle" font-size="14" font-weight="bold" textLength="50" lengthAdjust="spacingAndGlyphs">CD34 PE</text>
<text x="409.2" y="213.8" text-anchor="middle" font-size="14" font-weight="bold" textLength="64" lengthAdjust="spacingAndGlyphs">CD15 FITC</text>
<g transform="translate(32.9 404.8) rotate(-90)"><text x="-9.6" y="0" font-size="15" font-weight="bold" textLength="11.2" lengthAdjust="spacingAndGlyphs">10</text><text x="3.3" y="-5.6" font-size="13.5" stroke="#000" stroke-width="0.35" textLength="5.6" lengthAdjust="spacingAndGlyphs">0</text></g>
<text x="34.1" y="426.3" font-size="15" font-weight="bold" textLength="11.2" lengthAdjust="spacingAndGlyphs">10</text><text x="45.8" y="420.7" font-size="13.5" stroke="#000" stroke-width="0.35" textLength="5.6" lengthAdjust="spacingAndGlyphs">0</text>
<g transform="translate(32.9 363.32) rotate(-90)"><text x="-9.6" y="0" font-size="15" font-weight="bold" textLength="11.2" lengthAdjust="spacingAndGlyphs">10</text><text x="3.3" y="-5.6" font-size="13.5" stroke="#000" stroke-width="0.35" textLength="5.6" lengthAdjust="spacingAndGlyphs">1</text></g>
<text x="83.4" y="426.3" font-size="15" font-weight="bold" textLength="11.2" lengthAdjust="spacingAndGlyphs">10</text><text x="95.1" y="420.7" font-size="13.5" stroke="#000" stroke-width="0.35" textLength="5.6" lengthAdjust="spacingAndGlyphs">1</text>
<g transform="translate(32.9 321.85) rotate(-90)"><text x="-9.6" y="0" font-size="15" font-weight="bold" textLength="11.2" lengthAdjust="spacingAndGlyphs">10</text><text x="3.3" y="-5.6" font-size="13.5" stroke="#000" stroke-width="0.35" textLength="5.6" lengthAdjust="spacingAndGlyphs">2</text></g>
<text x="132.7" y="426.3" font-size="15" font-weight="bold" textLength="11.2" lengthAdjust="spacingAndGlyphs">10</text><text x="144.4" y="420.7" font-size="13.5" stroke="#000" stroke-width="0.35" textLength="5.6" lengthAdjust="spacingAndGlyphs">2</text>
<g transform="translate(32.9 280.38) rotate(-90)"><text x="-9.6" y="0" font-size="15" font-weight="bold" textLength="11.2" lengthAdjust="spacingAndGlyphs">10</text><text x="3.3" y="-5.6" font-size="13.5" stroke="#000" stroke-width="0.35" textLength="5.6" lengthAdjust="spacingAndGlyphs">3</text></g>
<text x="182" y="426.3" font-size="15" font-weight="bold" textLength="11.2" lengthAdjust="spacingAndGlyphs">10</text><text x="193.7" y="420.7" font-size="13.5" stroke="#000" stroke-width="0.35" textLength="5.6" lengthAdjust="spacingAndGlyphs">3</text>
<g transform="translate(32.9 238.9) rotate(-90)"><text x="-9.6" y="0" font-size="15" font-weight="bold" textLength="11.2" lengthAdjust="spacingAndGlyphs">10</text><text x="3.3" y="-5.6" font-size="13.5" stroke="#000" stroke-width="0.35" textLength="5.6" lengthAdjust="spacingAndGlyphs">4</text></g>
<text x="231.3" y="426.3" font-size="15" font-weight="bold" textLength="11.2" lengthAdjust="spacingAndGlyphs">10</text><text x="243" y="420.7" font-size="13.5" stroke="#000" stroke-width="0.35" textLength="5.6" lengthAdjust="spacingAndGlyphs">4</text>
<text transform="translate(14.6 322.5) rotate(-90)" x="0" y="0" text-anchor="middle" font-size="14" font-weight="bold" textLength="57.4" lengthAdjust="spacingAndGlyphs">CD79A PE</text>
<text x="140.85" y="438.7" text-anchor="middle" font-size="14" font-weight="bold" textLength="103.7" lengthAdjust="spacingAndGlyphs">LYSOZYME FITC</text>
<g transform="translate(301.2 404.8) rotate(-90)"><text x="-9.6" y="0" font-size="15" font-weight="bold" textLength="11.2" lengthAdjust="spacingAndGlyphs">10</text><text x="3.3" y="-5.6" font-size="13.5" stroke="#000" stroke-width="0.35" textLength="5.6" lengthAdjust="spacingAndGlyphs">0</text></g>
<text x="302.4" y="426.3" font-size="15" font-weight="bold" textLength="11.2" lengthAdjust="spacingAndGlyphs">10</text><text x="314.1" y="420.7" font-size="13.5" stroke="#000" stroke-width="0.35" textLength="5.6" lengthAdjust="spacingAndGlyphs">0</text>
<g transform="translate(301.2 363.38) rotate(-90)"><text x="-9.6" y="0" font-size="15" font-weight="bold" textLength="11.2" lengthAdjust="spacingAndGlyphs">10</text><text x="3.3" y="-5.6" font-size="13.5" stroke="#000" stroke-width="0.35" textLength="5.6" lengthAdjust="spacingAndGlyphs">1</text></g>
<text x="351.67" y="426.3" font-size="15" font-weight="bold" textLength="11.2" lengthAdjust="spacingAndGlyphs">10</text><text x="363.37" y="420.7" font-size="13.5" stroke="#000" stroke-width="0.35" textLength="5.6" lengthAdjust="spacingAndGlyphs">1</text>
<g transform="translate(301.2 321.95) rotate(-90)"><text x="-9.6" y="0" font-size="15" font-weight="bold" textLength="11.2" lengthAdjust="spacingAndGlyphs">10</text><text x="3.3" y="-5.6" font-size="13.5" stroke="#000" stroke-width="0.35" textLength="5.6" lengthAdjust="spacingAndGlyphs">2</text></g>
<text x="400.95" y="426.3" font-size="15" font-weight="bold" textLength="11.2" lengthAdjust="spacingAndGlyphs">10</text><text x="412.65" y="420.7" font-size="13.5" stroke="#000" stroke-width="0.35" textLength="5.6" lengthAdjust="spacingAndGlyphs">2</text>
<g transform="translate(301.2 280.52) rotate(-90)"><text x="-9.6" y="0" font-size="15" font-weight="bold" textLength="11.2" lengthAdjust="spacingAndGlyphs">10</text><text x="3.3" y="-5.6" font-size="13.5" stroke="#000" stroke-width="0.35" textLength="5.6" lengthAdjust="spacingAndGlyphs">3</text></g>
<text x="450.23" y="426.3" font-size="15" font-weight="bold" textLength="11.2" lengthAdjust="spacingAndGlyphs">10</text><text x="461.93" y="420.7" font-size="13.5" stroke="#000" stroke-width="0.35" textLength="5.6" lengthAdjust="spacingAndGlyphs">3</text>
<g transform="translate(301.2 239.1) rotate(-90)"><text x="-9.6" y="0" font-size="15" font-weight="bold" textLength="11.2" lengthAdjust="spacingAndGlyphs">10</text><text x="3.3" y="-5.6" font-size="13.5" stroke="#000" stroke-width="0.35" textLength="5.6" lengthAdjust="spacingAndGlyphs">4</text></g>
<text x="499.5" y="426.3" font-size="15" font-weight="bold" textLength="11.2" lengthAdjust="spacingAndGlyphs">10</text><text x="511.2" y="420.7" font-size="13.5" stroke="#000" stroke-width="0.35" textLength="5.6" lengthAdjust="spacingAndGlyphs">4</text>
<text transform="translate(282.9 322.6) rotate(-90)" x="0" y="0" text-anchor="middle" font-size="14" font-weight="bold" textLength="75.5" lengthAdjust="spacingAndGlyphs">memCD19 Pe</text>
<text x="409.1" y="438.7" text-anchor="middle" font-size="14" font-weight="bold" textLength="54.8" lengthAdjust="spacingAndGlyphs">MPO Fitc</text>
<g transform="translate(33.1 624.9) rotate(-90)"><text x="-9.6" y="0" font-size="15" font-weight="bold" textLength="11.2" lengthAdjust="spacingAndGlyphs">10</text><text x="3.3" y="-5.6" font-size="13.5" stroke="#000" stroke-width="0.35" textLength="5.6" lengthAdjust="spacingAndGlyphs">0</text></g>
<text x="34.3" y="646.4" font-size="15" font-weight="bold" textLength="11.2" lengthAdjust="spacingAndGlyphs">10</text><text x="46" y="640.8" font-size="13.5" stroke="#000" stroke-width="0.35" textLength="5.6" lengthAdjust="spacingAndGlyphs">0</text>
<g transform="translate(33.1 583.48) rotate(-90)"><text x="-9.6" y="0" font-size="15" font-weight="bold" textLength="11.2" lengthAdjust="spacingAndGlyphs">10</text><text x="3.3" y="-5.6" font-size="13.5" stroke="#000" stroke-width="0.35" textLength="5.6" lengthAdjust="spacingAndGlyphs">1</text></g>
<text x="83.55" y="646.4" font-size="15" font-weight="bold" textLength="11.2" lengthAdjust="spacingAndGlyphs">10</text><text x="95.25" y="640.8" font-size="13.5" stroke="#000" stroke-width="0.35" textLength="5.6" lengthAdjust="spacingAndGlyphs">1</text>
<g transform="translate(33.1 542.05) rotate(-90)"><text x="-9.6" y="0" font-size="15" font-weight="bold" textLength="11.2" lengthAdjust="spacingAndGlyphs">10</text><text x="3.3" y="-5.6" font-size="13.5" stroke="#000" stroke-width="0.35" textLength="5.6" lengthAdjust="spacingAndGlyphs">2</text></g>
<text x="132.8" y="646.4" font-size="15" font-weight="bold" textLength="11.2" lengthAdjust="spacingAndGlyphs">10</text><text x="144.5" y="640.8" font-size="13.5" stroke="#000" stroke-width="0.35" textLength="5.6" lengthAdjust="spacingAndGlyphs">2</text>
<g transform="translate(33.1 500.62) rotate(-90)"><text x="-9.6" y="0" font-size="15" font-weight="bold" textLength="11.2" lengthAdjust="spacingAndGlyphs">10</text><text x="3.3" y="-5.6" font-size="13.5" stroke="#000" stroke-width="0.35" textLength="5.6" lengthAdjust="spacingAndGlyphs">3</text></g>
<text x="182.05" y="646.4" font-size="15" font-weight="bold" textLength="11.2" lengthAdjust="spacingAndGlyphs">10</text><text x="193.75" y="640.8" font-size="13.5" stroke="#000" stroke-width="0.35" textLength="5.6" lengthAdjust="spacingAndGlyphs">3</text>
<g transform="translate(33.1 459.2) rotate(-90)"><text x="-9.6" y="0" font-size="15" font-weight="bold" textLength="11.2" lengthAdjust="spacingAndGlyphs">10</text><text x="3.3" y="-5.6" font-size="13.5" stroke="#000" stroke-width="0.35" textLength="5.6" lengthAdjust="spacingAndGlyphs">4</text></g>
<text x="231.3" y="646.4" font-size="15" font-weight="bold" textLength="11.2" lengthAdjust="spacingAndGlyphs">10</text><text x="243" y="640.8" font-size="13.5" stroke="#000" stroke-width="0.35" textLength="5.6" lengthAdjust="spacingAndGlyphs">4</text>
<text transform="translate(14.8 542.7) rotate(-90)" x="0" y="0" text-anchor="middle" font-size="14" font-weight="bold" textLength="49" lengthAdjust="spacingAndGlyphs">CD13 PE</text>
<text x="140.95" y="658.8" text-anchor="middle" font-size="14" font-weight="bold" textLength="57.7" lengthAdjust="spacingAndGlyphs">CD7 FITC</text>
<g transform="translate(301.2 624.8) rotate(-90)"><text x="-9.6" y="0" font-size="15" font-weight="bold" textLength="11.2" lengthAdjust="spacingAndGlyphs">10</text><text x="3.3" y="-5.6" font-size="13.5" stroke="#000" stroke-width="0.35" textLength="5.6" lengthAdjust="spacingAndGlyphs">0</text></g>
<text x="302.4" y="646.3" font-size="15" font-weight="bold" textLength="11.2" lengthAdjust="spacingAndGlyphs">10</text><text x="314.1" y="640.7" font-size="13.5" stroke="#000" stroke-width="0.35" textLength="5.6" lengthAdjust="spacingAndGlyphs">0</text>
<g transform="translate(301.2 583.4) rotate(-90)"><text x="-9.6" y="0" font-size="15" font-weight="bold" textLength="11.2" lengthAdjust="spacingAndGlyphs">10</text><text x="3.3" y="-5.6" font-size="13.5" stroke="#000" stroke-width="0.35" textLength="5.6" lengthAdjust="spacingAndGlyphs">1</text></g>
<text x="351.67" y="646.3" font-size="15" font-weight="bold" textLength="11.2" lengthAdjust="spacingAndGlyphs">10</text><text x="363.37" y="640.7" font-size="13.5" stroke="#000" stroke-width="0.35" textLength="5.6" lengthAdjust="spacingAndGlyphs">1</text>
<g transform="translate(301.2 542) rotate(-90)"><text x="-9.6" y="0" font-size="15" font-weight="bold" textLength="11.2" lengthAdjust="spacingAndGlyphs">10</text><text x="3.3" y="-5.6" font-size="13.5" stroke="#000" stroke-width="0.35" textLength="5.6" lengthAdjust="spacingAndGlyphs">2</text></g>
<text x="400.95" y="646.3" font-size="15" font-weight="bold" textLength="11.2" lengthAdjust="spacingAndGlyphs">10</text><text x="412.65" y="640.7" font-size="13.5" stroke="#000" stroke-width="0.35" textLength="5.6" lengthAdjust="spacingAndGlyphs">2</text>
<g transform="translate(301.2 500.6) rotate(-90)"><text x="-9.6" y="0" font-size="15" font-weight="bold" textLength="11.2" lengthAdjust="spacingAndGlyphs">10</text><text x="3.3" y="-5.6" font-size="13.5" stroke="#000" stroke-width="0.35" textLength="5.6" lengthAdjust="spacingAndGlyphs">3</text></g>
<text x="450.23" y="646.3" font-size="15" font-weight="bold" textLength="11.2" lengthAdjust="spacingAndGlyphs">10</text><text x="461.93" y="640.7" font-size="13.5" stroke="#000" stroke-width="0.35" textLength="5.6" lengthAdjust="spacingAndGlyphs">3</text>
<g transform="translate(301.2 459.2) rotate(-90)"><text x="-9.6" y="0" font-size="15" font-weight="bold" textLength="11.2" lengthAdjust="spacingAndGlyphs">10</text><text x="3.3" y="-5.6" font-size="13.5" stroke="#000" stroke-width="0.35" textLength="5.6" lengthAdjust="spacingAndGlyphs">4</text></g>
<text x="499.5" y="646.3" font-size="15" font-weight="bold" textLength="11.2" lengthAdjust="spacingAndGlyphs">10</text><text x="511.2" y="640.7" font-size="13.5" stroke="#000" stroke-width="0.35" textLength="5.6" lengthAdjust="spacingAndGlyphs">4</text>
<text transform="translate(282.9 542.65) rotate(-90)" x="0" y="0" text-anchor="middle" font-size="14" font-weight="bold" textLength="61.4" lengthAdjust="spacingAndGlyphs">mCD19 PE</text>
<text x="409.1" y="658.7" text-anchor="middle" font-size="14" font-weight="bold" textLength="58.7" lengthAdjust="spacingAndGlyphs">TDT FITC</text>
<text transform="translate(29.3 184.2) rotate(-90)" text-anchor="middle" font-size="12.5">0</text>
<text transform="translate(29.3 151) rotate(-90)" text-anchor="middle" font-size="12.5">200</text>
<text transform="translate(29.3 117.8) rotate(-90)" text-anchor="middle" font-size="12.5">400</text>
<text transform="translate(29.3 84.6) rotate(-90)" text-anchor="middle" font-size="12.5">600</text>
<text transform="translate(29.3 51.4) rotate(-90)" text-anchor="middle" font-size="12.5">800</text>
<text transform="translate(29.3 18.2) rotate(-90)" text-anchor="middle" font-size="12.5">1000</text>
<text x="30.5" y="205.3" font-size="13.5" textLength="11.6" lengthAdjust="spacingAndGlyphs">10</text>
<text x="42.7" y="199" font-size="12.5" textLength="5.6" lengthAdjust="spacingAndGlyphs">0</text>
<text x="80.55" y="205.3" font-size="13.5" textLength="11.6" lengthAdjust="spacingAndGlyphs">10</text>
<text x="92.75" y="199" font-size="12.5" textLength="5.6" lengthAdjust="spacingAndGlyphs">1</text>
<text x="130.6" y="205.3" font-size="13.5" textLength="11.6" lengthAdjust="spacingAndGlyphs">10</text>
<text x="142.8" y="199" font-size="12.5" textLength="5.6" lengthAdjust="spacingAndGlyphs">2</text>
<text x="180.65" y="205.3" font-size="13.5" textLength="11.6" lengthAdjust="spacingAndGlyphs">10</text>
<text x="192.85" y="199" font-size="12.5" textLength="5.6" lengthAdjust="spacingAndGlyphs">3</text>
<text x="230.7" y="205.3" font-size="13.5" textLength="11.6" lengthAdjust="spacingAndGlyphs">10</text>
<text x="242.9" y="199" font-size="12.5" textLength="5.6" lengthAdjust="spacingAndGlyphs">4</text>
<text transform="translate(14.4 100.9) rotate(-90)" text-anchor="middle" font-size="14.5" textLength="60" lengthAdjust="spacingAndGlyphs">SSC-Height</text>
<text x="139.4" y="216.3" text-anchor="middle" font-size="13" textLength="31.8" lengthAdjust="spacingAndGlyphs">CD45</text>
<text x="107.2" y="144.8" font-size="10.5" style="font-family:'Liberation Sans',sans-serif" stroke="#000" stroke-width="0.3" textLength="10.6" lengthAdjust="spacingAndGlyphs">R1</text>
<text x="211.8" y="181" font-size="10.5" style="font-family:'Liberation Sans',sans-serif" stroke="#000" stroke-width="0.3" textLength="12" lengthAdjust="spacingAndGlyphs">R2</text>
</svg></body></html>
